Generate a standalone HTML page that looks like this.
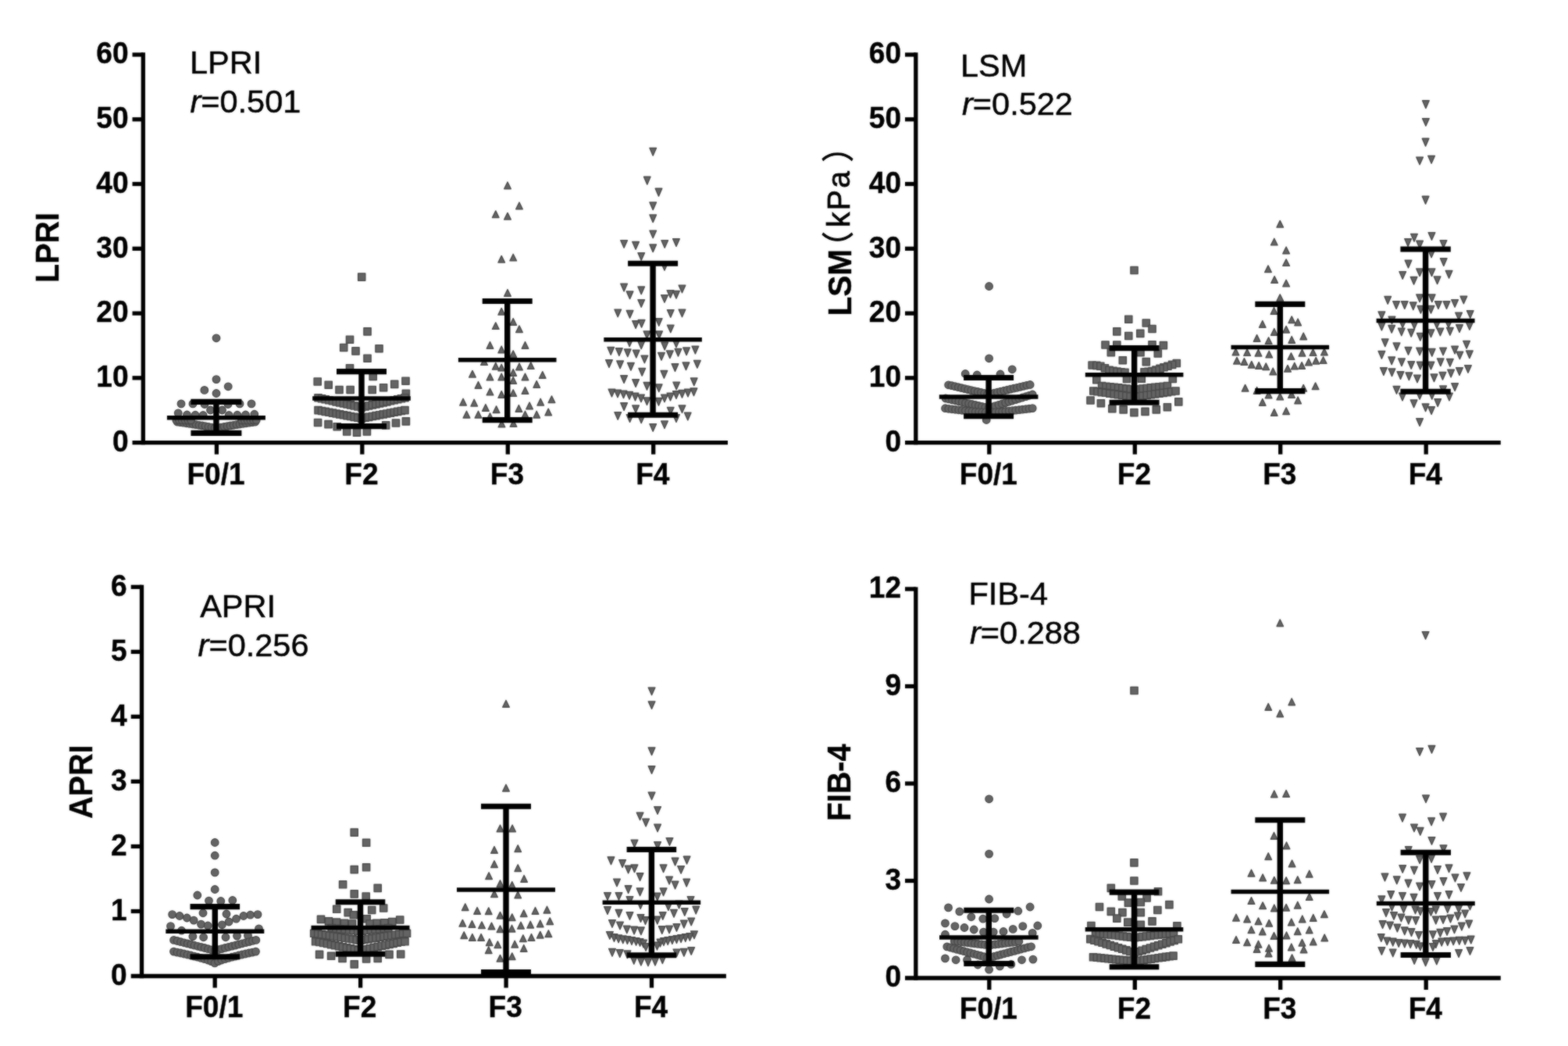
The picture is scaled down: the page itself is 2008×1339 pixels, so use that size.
<!DOCTYPE html>
<html lang="en">
<head>
<meta charset="utf-8">
<title>Scatter plots: LPRI, LSM, APRI, FIB-4 by fibrosis stage</title>
<style>
html,body{margin:0;padding:0;background:#fff;}
body{width:2008px;height:1339px;overflow:hidden;}
svg{display:block;}
text{font-family:"Liberation Sans",sans-serif;fill:#000;}
.tk{font-size:38.4px;font-weight:bold;stroke:#000;stroke-width:0.4px;}
.yt{font-size:42.5px;font-weight:bold;stroke:#000;stroke-width:0.4px;}
.kpa{font-weight:normal;font-size:41px;letter-spacing:2.4px;stroke:#000;stroke-width:0.7px;}
.par{font-family:"Liberation Sans","Noto Sans CJK SC",sans-serif;font-weight:normal;font-size:41px;stroke:#000;stroke-width:0.9px;}
.an{font-size:41.5px;stroke:#000;stroke-width:0.5px;}
</style>
</head>
<body>
<svg xmlns="http://www.w3.org/2000/svg" width="2008" height="1339" viewBox="0 0 2008 1339">
<defs><filter id="soft" x="0" y="0" width="2008" height="1339" filterUnits="userSpaceOnUse" color-interpolation-filters="sRGB"><feGaussianBlur stdDeviation="0.9" result="bl"/><feComposite in="SourceGraphic" in2="bl" operator="arithmetic" k1="0" k2="0.45" k3="0.55" k4="0"/></filter></defs>
<rect width="2008" height="1339" fill="#fff"/>
<g filter="url(#soft)">
<rect width="2008" height="1339" fill="#fff"/>
<g id="p1">
<g fill="#646464" stroke="#4a4a4a" stroke-width="1.4" stroke-linejoin="round">
<circle cx="277.0" cy="432.8" r="4.7"/>
<circle cx="277.0" cy="485.6" r="4.7"/>
<circle cx="292.2" cy="494.8" r="4.7"/>
<circle cx="261.8" cy="499.4" r="4.7"/>
<circle cx="277.0" cy="503.5" r="4.7"/>
<circle cx="232.0" cy="516.9" r="4.7"/>
<circle cx="247.0" cy="516.9" r="4.7"/>
<circle cx="262.0" cy="517.5" r="4.7"/>
<circle cx="292.0" cy="517.5" r="4.7"/>
<circle cx="307.0" cy="516.9" r="4.7"/>
<circle cx="322.0" cy="516.9" r="4.7"/>
<circle cx="269.5" cy="525.0" r="4.7"/>
<circle cx="284.5" cy="525.0" r="4.7"/>
<circle cx="228.2" cy="528.8" r="4.7"/>
<circle cx="239.5" cy="531.0" r="4.7"/>
<circle cx="250.1" cy="531.2" r="4.7"/>
<circle cx="260.1" cy="531.5" r="4.7"/>
<circle cx="293.2" cy="531.5" r="4.7"/>
<circle cx="303.9" cy="531.2" r="4.7"/>
<circle cx="314.5" cy="531.0" r="4.7"/>
<circle cx="325.8" cy="530.2" r="4.7"/>
<circle cx="227.0" cy="540.0" r="4.7"/>
<circle cx="231.0" cy="540.6" r="4.7"/>
<circle cx="235.0" cy="541.2" r="4.7"/>
<circle cx="239.0" cy="541.8" r="4.7"/>
<circle cx="243.0" cy="542.4" r="4.7"/>
<circle cx="247.0" cy="543.0" r="4.7"/>
<circle cx="251.0" cy="543.6" r="4.7"/>
<circle cx="255.0" cy="544.3" r="4.7"/>
<circle cx="259.0" cy="544.9" r="4.7"/>
<circle cx="263.0" cy="545.6" r="4.7"/>
<circle cx="267.0" cy="546.3" r="4.7"/>
<circle cx="271.0" cy="547.1" r="4.7"/>
<circle cx="275.0" cy="547.9" r="4.7"/>
<circle cx="279.0" cy="547.9" r="4.7"/>
<circle cx="283.0" cy="547.1" r="4.7"/>
<circle cx="287.0" cy="546.3" r="4.7"/>
<circle cx="291.0" cy="545.6" r="4.7"/>
<circle cx="295.0" cy="544.9" r="4.7"/>
<circle cx="299.0" cy="544.3" r="4.7"/>
<circle cx="303.0" cy="543.6" r="4.7"/>
<circle cx="307.0" cy="543.0" r="4.7"/>
<circle cx="311.0" cy="542.4" r="4.7"/>
<circle cx="315.0" cy="541.8" r="4.7"/>
<circle cx="319.0" cy="541.2" r="4.7"/>
<circle cx="323.0" cy="540.6" r="4.7"/>
<circle cx="327.0" cy="540.0" r="4.7"/>
<circle cx="225.8" cy="537.8" r="4.7"/>
<circle cx="229.5" cy="537.8" r="4.7"/>
<circle cx="233.2" cy="537.9" r="4.7"/>
<circle cx="237.0" cy="538.0" r="4.7"/>
<circle cx="240.8" cy="538.0" r="4.7"/>
<circle cx="244.5" cy="538.1" r="4.7"/>
<circle cx="309.5" cy="538.1" r="4.7"/>
<circle cx="313.2" cy="538.0" r="4.7"/>
<circle cx="317.0" cy="538.0" r="4.7"/>
<circle cx="320.8" cy="537.9" r="4.7"/>
<circle cx="324.5" cy="537.8" r="4.7"/>
<circle cx="328.2" cy="537.8" r="4.7"/>
<rect x="458.6" y="350.0" width="9.2" height="9.2"/>
<rect x="465.9" y="419.8" width="9.2" height="9.2"/>
<rect x="443.4" y="430.1" width="9.2" height="9.2"/>
<rect x="435.6" y="440.4" width="9.2" height="9.2"/>
<rect x="450.9" y="444.8" width="9.2" height="9.2"/>
<rect x="480.9" y="441.6" width="9.2" height="9.2"/>
<rect x="465.9" y="454.1" width="9.2" height="9.2"/>
<rect x="443.4" y="466.6" width="9.2" height="9.2"/>
<rect x="473.1" y="477.3" width="9.2" height="9.2"/>
<rect x="402.1" y="483.9" width="9.2" height="9.2"/>
<rect x="416.1" y="488.1" width="9.2" height="9.2"/>
<rect x="429.9" y="494.4" width="9.2" height="9.2"/>
<rect x="444.0" y="494.4" width="9.2" height="9.2"/>
<rect x="472.1" y="494.4" width="9.2" height="9.2"/>
<rect x="486.5" y="491.6" width="9.2" height="9.2"/>
<rect x="500.6" y="487.3" width="9.2" height="9.2"/>
<rect x="514.9" y="483.1" width="9.2" height="9.2"/>
<rect x="515.3" y="499.1" width="9.2" height="9.2"/>
<rect x="402.5" y="536.4" width="9.2" height="9.2"/>
<rect x="415.9" y="538.5" width="9.2" height="9.2"/>
<rect x="427.1" y="541.6" width="9.2" height="9.2"/>
<rect x="439.6" y="547.9" width="9.2" height="9.2"/>
<rect x="452.4" y="549.1" width="9.2" height="9.2"/>
<rect x="465.3" y="547.9" width="9.2" height="9.2"/>
<rect x="489.6" y="539.8" width="9.2" height="9.2"/>
<rect x="502.4" y="536.9" width="9.2" height="9.2"/>
<rect x="515.3" y="534.8" width="9.2" height="9.2"/>
<rect x="402.9" y="504.6" width="9.2" height="9.2"/>
<rect x="407.5" y="505.7" width="9.2" height="9.2"/>
<rect x="412.1" y="506.7" width="9.2" height="9.2"/>
<rect x="416.8" y="507.7" width="9.2" height="9.2"/>
<rect x="421.4" y="508.7" width="9.2" height="9.2"/>
<rect x="426.0" y="509.8" width="9.2" height="9.2"/>
<rect x="430.6" y="510.8" width="9.2" height="9.2"/>
<rect x="435.3" y="511.8" width="9.2" height="9.2"/>
<rect x="439.9" y="512.8" width="9.2" height="9.2"/>
<rect x="444.5" y="513.8" width="9.2" height="9.2"/>
<rect x="449.1" y="514.9" width="9.2" height="9.2"/>
<rect x="453.8" y="515.9" width="9.2" height="9.2"/>
<rect x="458.4" y="516.9" width="9.2" height="9.2"/>
<rect x="463.0" y="515.9" width="9.2" height="9.2"/>
<rect x="467.6" y="514.9" width="9.2" height="9.2"/>
<rect x="472.3" y="513.8" width="9.2" height="9.2"/>
<rect x="476.9" y="512.8" width="9.2" height="9.2"/>
<rect x="481.5" y="511.8" width="9.2" height="9.2"/>
<rect x="486.1" y="510.8" width="9.2" height="9.2"/>
<rect x="490.8" y="509.8" width="9.2" height="9.2"/>
<rect x="495.4" y="508.7" width="9.2" height="9.2"/>
<rect x="500.0" y="507.7" width="9.2" height="9.2"/>
<rect x="504.6" y="506.7" width="9.2" height="9.2"/>
<rect x="509.3" y="505.7" width="9.2" height="9.2"/>
<rect x="513.9" y="504.6" width="9.2" height="9.2"/>
<rect x="402.9" y="520.5" width="9.2" height="9.2"/>
<rect x="407.5" y="521.4" width="9.2" height="9.2"/>
<rect x="412.1" y="522.3" width="9.2" height="9.2"/>
<rect x="416.8" y="523.1" width="9.2" height="9.2"/>
<rect x="421.4" y="524.0" width="9.2" height="9.2"/>
<rect x="426.0" y="524.9" width="9.2" height="9.2"/>
<rect x="430.6" y="525.8" width="9.2" height="9.2"/>
<rect x="435.3" y="526.6" width="9.2" height="9.2"/>
<rect x="439.9" y="527.5" width="9.2" height="9.2"/>
<rect x="444.5" y="528.4" width="9.2" height="9.2"/>
<rect x="449.1" y="529.3" width="9.2" height="9.2"/>
<rect x="453.8" y="530.1" width="9.2" height="9.2"/>
<rect x="458.4" y="531.0" width="9.2" height="9.2"/>
<rect x="463.0" y="530.1" width="9.2" height="9.2"/>
<rect x="467.6" y="529.3" width="9.2" height="9.2"/>
<rect x="472.3" y="528.4" width="9.2" height="9.2"/>
<rect x="476.9" y="527.5" width="9.2" height="9.2"/>
<rect x="481.5" y="526.6" width="9.2" height="9.2"/>
<rect x="486.1" y="525.8" width="9.2" height="9.2"/>
<rect x="490.8" y="524.9" width="9.2" height="9.2"/>
<rect x="495.4" y="524.0" width="9.2" height="9.2"/>
<rect x="500.0" y="523.1" width="9.2" height="9.2"/>
<rect x="504.6" y="522.3" width="9.2" height="9.2"/>
<rect x="509.3" y="521.4" width="9.2" height="9.2"/>
<rect x="513.9" y="520.5" width="9.2" height="9.2"/>
<path d="M645.7 241.7L654.3 241.7L650.0 233.0Z"/>
<path d="M660.7 267.7L669.3 267.7L665.0 259.0Z"/>
<path d="M630.5 278.6L639.0 278.6L634.8 269.9Z"/>
<path d="M645.7 281.1L654.3 281.1L650.0 272.4Z"/>
<path d="M638.0 336.1L646.5 336.1L642.2 327.4Z"/>
<path d="M653.0 333.9L661.5 333.9L657.2 325.2Z"/>
<path d="M645.7 379.2L654.3 379.2L650.0 370.5Z"/>
<path d="M638.0 403.1L646.5 403.1L642.2 394.4Z"/>
<path d="M653.0 416.2L661.5 416.2L657.2 407.5Z"/>
<path d="M630.5 421.4L639.0 421.4L634.8 412.8Z"/>
<path d="M660.7 425.6L669.3 425.6L665.0 416.9Z"/>
<path d="M623.2 446.2L631.8 446.2L627.5 437.5Z"/>
<path d="M668.2 446.2L676.8 446.2L672.5 437.5Z"/>
<path d="M638.0 451.8L646.5 451.8L642.2 443.1Z"/>
<path d="M653.0 457.4L661.5 457.4L657.2 448.8Z"/>
<path d="M615.7 467.4L624.3 467.4L620.0 458.8Z"/>
<path d="M630.5 473.1L639.0 473.1L634.8 464.4Z"/>
<path d="M638.0 474.9L646.5 474.9L642.2 466.2Z"/>
<path d="M660.7 473.7L669.3 473.7L665.0 465.0Z"/>
<path d="M675.5 472.4L684.0 472.4L679.8 463.8Z"/>
<path d="M600.7 483.1L609.3 483.1L605.0 474.4Z"/>
<path d="M653.0 481.2L661.5 481.2L657.2 472.5Z"/>
<path d="M690.5 484.3L699.0 484.3L694.8 475.6Z"/>
<path d="M623.2 486.8L631.8 486.8L627.5 478.1Z"/>
<path d="M638.0 486.8L646.5 486.8L642.2 478.1Z"/>
<path d="M668.2 486.8L676.8 486.8L672.5 478.1Z"/>
<path d="M653.0 491.2L661.5 491.2L657.2 482.5Z"/>
<path d="M608.2 497.2L616.8 497.2L612.5 488.5Z"/>
<path d="M683.0 496.2L691.5 496.2L687.2 487.5Z"/>
<path d="M623.2 505.9L631.8 505.9L627.5 497.2Z"/>
<path d="M668.2 504.3L676.8 504.3L672.5 495.6Z"/>
<path d="M638.0 509.3L646.5 509.3L642.2 500.6Z"/>
<path d="M653.0 507.4L661.5 507.4L657.2 498.8Z"/>
<path d="M588.8 519.0L597.4 519.0L593.1 510.2Z"/>
<path d="M603.0 520.0L611.5 520.0L607.2 511.2Z"/>
<path d="M688.0 519.0L696.5 519.0L692.2 510.2Z"/>
<path d="M702.2 515.6L710.8 515.6L706.5 506.9Z"/>
<path d="M673.8 523.7L682.4 523.7L678.1 515.0Z"/>
<path d="M617.6 526.2L626.2 526.2L621.9 517.5Z"/>
<path d="M631.3 528.5L639.9 528.5L635.6 519.8Z"/>
<path d="M660.1 527.2L668.7 527.2L664.4 518.5Z"/>
<path d="M593.2 535.0L601.8 535.0L597.5 526.2Z"/>
<path d="M608.2 535.0L616.8 535.0L612.5 526.2Z"/>
<path d="M683.0 535.0L691.5 535.0L687.2 526.2Z"/>
<path d="M698.0 531.8L706.5 531.8L702.2 523.1Z"/>
<path d="M668.2 535.0L676.8 535.0L672.5 526.2Z"/>
<path d="M638.2 546.8L646.8 546.8L642.5 538.1Z"/>
<path d="M653.2 546.2L661.8 546.2L657.5 537.5Z"/>
<path d="M623.2 537.5L631.8 537.5L627.5 528.8Z"/>
<path d="M832.0 189.5L840.5 189.5L836.2 199.2Z"/>
<path d="M824.5 226.3L833.0 226.3L828.8 236.1Z"/>
<path d="M839.2 241.3L847.8 241.3L843.5 251.1Z"/>
<path d="M832.0 258.9L840.5 258.9L836.2 268.6Z"/>
<path d="M832.0 274.9L840.5 274.9L836.2 284.6Z"/>
<path d="M832.0 295.1L840.5 295.1L836.2 304.8Z"/>
<path d="M794.8 307.6L803.4 307.6L799.1 317.3Z"/>
<path d="M809.8 309.5L818.4 309.5L814.1 319.2Z"/>
<path d="M832.0 312.9L840.5 312.9L836.2 322.6Z"/>
<path d="M847.0 307.6L855.5 307.6L851.2 317.3Z"/>
<path d="M861.7 305.7L870.3 305.7L866.0 315.4Z"/>
<path d="M817.0 323.6L825.5 323.6L821.2 333.3Z"/>
<path d="M846.7 336.4L855.3 336.4L851.0 346.1Z"/>
<path d="M794.8 363.2L803.4 363.2L799.1 372.9Z"/>
<path d="M817.0 367.0L825.5 367.0L821.2 376.7Z"/>
<path d="M802.3 372.9L810.9 372.9L806.6 382.6Z"/>
<path d="M869.2 365.1L877.8 365.1L873.5 374.8Z"/>
<path d="M854.2 371.6L862.8 371.6L858.5 381.3Z"/>
<path d="M861.7 372.4L870.3 372.4L866.0 382.1Z"/>
<path d="M846.7 377.6L855.3 377.6L851.0 387.3Z"/>
<path d="M817.0 383.6L825.5 383.6L821.2 393.3Z"/>
<path d="M787.0 396.1L795.5 396.1L791.2 405.8Z"/>
<path d="M802.3 397.4L810.9 397.4L806.6 407.1Z"/>
<path d="M854.5 396.6L863.0 396.6L858.8 406.3Z"/>
<path d="M869.2 396.1L877.8 396.1L873.5 405.8Z"/>
<path d="M809.8 410.7L818.4 410.7L814.1 420.4Z"/>
<path d="M817.3 409.5L825.9 409.5L821.6 419.2Z"/>
<path d="M839.5 407.6L848.0 407.6L843.8 417.3Z"/>
<path d="M854.5 416.1L863.0 416.1L858.8 425.8Z"/>
<path d="M824.2 423.9L832.8 423.9L828.5 433.6Z"/>
<path d="M839.8 423.9L848.4 423.9L844.1 433.6Z"/>
<path d="M802.0 433.9L810.5 433.9L806.2 443.6Z"/>
<path d="M817.0 437.0L825.5 437.0L821.2 446.7Z"/>
<path d="M847.0 438.2L855.5 438.2L851.2 447.9Z"/>
<path d="M861.7 435.1L870.3 435.1L866.0 444.8Z"/>
<path d="M778.0 444.5L786.5 444.5L782.2 454.2Z"/>
<path d="M788.6 445.7L797.2 445.7L792.9 455.4Z"/>
<path d="M799.5 447.0L808.0 447.0L803.8 456.7Z"/>
<path d="M810.5 448.2L819.0 448.2L814.8 457.9Z"/>
<path d="M821.1 455.1L829.7 455.1L825.4 464.8Z"/>
<path d="M842.7 451.4L851.3 451.4L847.0 461.1Z"/>
<path d="M853.6 448.9L862.2 448.9L857.9 458.6Z"/>
<path d="M864.2 446.4L872.8 446.4L868.5 456.1Z"/>
<path d="M874.8 444.9L883.4 444.9L879.1 454.6Z"/>
<path d="M886.1 443.2L894.7 443.2L890.4 452.9Z"/>
<path d="M775.7 460.7L784.3 460.7L780.0 470.4Z"/>
<path d="M789.8 462.0L798.4 462.0L794.1 471.7Z"/>
<path d="M803.6 464.5L812.2 464.5L807.9 474.2Z"/>
<path d="M860.2 465.7L868.8 465.7L864.5 475.4Z"/>
<path d="M874.2 463.9L882.8 463.9L878.5 473.6Z"/>
<path d="M888.6 461.4L897.2 461.4L892.9 471.1Z"/>
<path d="M818.0 471.4L826.5 471.4L822.2 481.1Z"/>
<path d="M846.1 474.5L854.7 474.5L850.4 484.2Z"/>
<path d="M794.8 480.7L803.4 480.7L799.1 490.4Z"/>
<path d="M809.8 485.7L818.4 485.7L814.1 495.4Z"/>
<path d="M824.2 489.5L832.8 489.5L828.5 499.2Z"/>
<path d="M839.5 492.0L848.0 492.0L843.8 501.7Z"/>
<path d="M862.0 489.1L870.5 489.1L866.2 498.8Z"/>
<path d="M884.5 483.9L893.0 483.9L888.8 493.6Z"/>
<path d="M779.2 498.2L787.8 498.2L783.5 507.9Z"/>
<path d="M786.7 499.1L795.3 499.1L791.0 508.8Z"/>
<path d="M794.2 500.1L802.8 500.1L798.5 509.8Z"/>
<path d="M801.7 501.4L810.3 501.4L806.0 511.1Z"/>
<path d="M809.2 503.2L817.8 503.2L813.5 512.9Z"/>
<path d="M816.7 505.1L825.3 505.1L821.0 514.8Z"/>
<path d="M824.2 508.9L832.8 508.9L828.5 518.5Z"/>
<path d="M839.2 509.5L847.8 509.5L843.5 519.2Z"/>
<path d="M846.7 505.1L855.3 505.1L851.0 514.8Z"/>
<path d="M854.2 503.2L862.8 503.2L858.5 512.9Z"/>
<path d="M861.7 500.7L870.3 500.7L866.0 510.4Z"/>
<path d="M869.2 499.5L877.8 499.5L873.5 509.2Z"/>
<path d="M876.7 498.2L885.3 498.2L881.0 507.9Z"/>
<path d="M884.2 497.0L892.8 497.0L888.5 506.7Z"/>
<path d="M794.8 515.7L803.4 515.7L799.1 525.4Z"/>
<path d="M809.8 518.9L818.4 518.9L814.1 528.5Z"/>
<path d="M854.5 521.4L863.0 521.4L858.8 531.0Z"/>
<path d="M869.2 518.9L877.8 518.9L873.5 528.5Z"/>
<path d="M787.0 527.6L795.5 527.6L791.2 537.3Z"/>
<path d="M802.3 530.7L810.9 530.7L806.6 540.4Z"/>
<path d="M817.0 532.0L825.5 532.0L821.2 541.7Z"/>
<path d="M861.7 530.7L870.3 530.7L866.0 540.4Z"/>
<path d="M876.5 528.2L885.0 528.2L880.8 537.9Z"/>
<path d="M832.0 542.6L840.5 542.6L836.2 552.3Z"/>
<path d="M846.7 538.9L855.3 538.9L851.0 548.5Z"/>
</g>
<g stroke="#000" fill="none">
<path stroke-width="5.5" d="M213.9 534.8H339.9"/>
<path stroke-width="7.4" d="M276.9 514.4V554.4"/>
<path stroke-width="7.1" d="M244.4 514.4H309.4M244.4 554.4H309.4"/>
<path stroke-width="5.5" d="M400.2 510.0H525.8"/>
<path stroke-width="7.4" d="M463.0 475.6V545.6"/>
<path stroke-width="7.1" d="M431.0 475.6H495.0M431.0 545.6H495.0"/>
<path stroke-width="5.5" d="M586.9 460.8H712.5"/>
<path stroke-width="7.4" d="M649.7 385.5V537.6"/>
<path stroke-width="7.1" d="M617.7 385.5H681.7M617.7 537.6H681.7"/>
<path stroke-width="5.5" d="M773.3 434.8H898.9"/>
<path stroke-width="7.4" d="M836.1 337.2V531.2"/>
<path stroke-width="7.1" d="M804.1 337.2H868.1M804.1 531.2H868.1"/>
</g>
<g stroke="#000" stroke-width="5.3" fill="none">
<path d="M183.3 67.3V569.2"/>
<path d="M169.5 566.6H932.0"/>
<path d="M169.5 483.8H183.3"/>
<path d="M169.5 401.1H183.3"/>
<path d="M169.5 318.3H183.3"/>
<path d="M169.5 235.5H183.3"/>
<path d="M169.5 152.8H183.3"/>
<path d="M169.5 70.0H183.3"/>
<path d="M277.4 566.6V581.6"/>
<path d="M463.8 566.6V581.6"/>
<path d="M650.3 566.6V581.6"/>
<path d="M836.7 566.6V581.6"/>
</g>
<g class="tk" text-anchor="end">
<text transform="translate(164.5 577.9) scale(0.965 1)">0</text>
<text transform="translate(164.5 495.1) scale(0.965 1)">10</text>
<text transform="translate(164.5 412.4) scale(0.965 1)">20</text>
<text transform="translate(164.5 329.6) scale(0.965 1)">30</text>
<text transform="translate(164.5 246.8) scale(0.965 1)">40</text>
<text transform="translate(164.5 164.1) scale(0.965 1)">50</text>
<text transform="translate(164.5 81.3) scale(0.965 1)">60</text>
</g>
<g class="tk" text-anchor="middle">
<text transform="translate(276.5 620.0) scale(0.965 1)">F0/1</text>
<text transform="translate(462.9 620.0) scale(0.965 1)">F2</text>
<text transform="translate(649.4 620.0) scale(0.965 1)">F3</text>
<text transform="translate(835.8 620.0) scale(0.965 1)">F4</text>
</g>
<text class="yt" text-anchor="middle" transform="translate(75 317) rotate(-90) scale(0.93 1)">LPRI</text>
<text class="an" x="243" y="94.3">LPRI</text>
<text class="an" x="243.4" y="144.3"><tspan font-style="italic">r</tspan>=0.501</text>
</g>
<g id="p2">
<g fill="#646464" stroke="#4a4a4a" stroke-width="1.4" stroke-linejoin="round">
<circle cx="1266.6" cy="366.5" r="4.7"/>
<circle cx="1266.6" cy="458.8" r="4.7"/>
<circle cx="1296.2" cy="472.8" r="4.7"/>
<circle cx="1236.2" cy="478.5" r="4.7"/>
<circle cx="1251.2" cy="480.0" r="4.7"/>
<circle cx="1281.0" cy="479.0" r="4.7"/>
<circle cx="1263.2" cy="537.5" r="4.7"/>
<circle cx="1214.6" cy="492.8" r="4.7"/>
<circle cx="1218.8" cy="493.7" r="4.7"/>
<circle cx="1223.0" cy="494.7" r="4.7"/>
<circle cx="1227.2" cy="495.7" r="4.7"/>
<circle cx="1231.3" cy="496.7" r="4.7"/>
<circle cx="1235.5" cy="497.6" r="4.7"/>
<circle cx="1239.7" cy="498.6" r="4.7"/>
<circle cx="1243.9" cy="499.6" r="4.7"/>
<circle cx="1248.1" cy="500.6" r="4.7"/>
<circle cx="1252.2" cy="501.5" r="4.7"/>
<circle cx="1256.4" cy="502.5" r="4.7"/>
<circle cx="1260.6" cy="503.5" r="4.7"/>
<circle cx="1264.8" cy="504.5" r="4.7"/>
<circle cx="1269.0" cy="504.1" r="4.7"/>
<circle cx="1273.1" cy="503.1" r="4.7"/>
<circle cx="1277.3" cy="502.1" r="4.7"/>
<circle cx="1281.5" cy="501.1" r="4.7"/>
<circle cx="1285.7" cy="500.2" r="4.7"/>
<circle cx="1289.9" cy="499.2" r="4.7"/>
<circle cx="1294.0" cy="498.2" r="4.7"/>
<circle cx="1298.2" cy="497.2" r="4.7"/>
<circle cx="1302.4" cy="496.3" r="4.7"/>
<circle cx="1306.6" cy="495.3" r="4.7"/>
<circle cx="1310.8" cy="494.3" r="4.7"/>
<circle cx="1314.9" cy="493.3" r="4.7"/>
<circle cx="1319.1" cy="492.5" r="4.7"/>
<circle cx="1211.0" cy="510.0" r="4.7"/>
<circle cx="1215.2" cy="510.9" r="4.7"/>
<circle cx="1219.5" cy="511.9" r="4.7"/>
<circle cx="1223.7" cy="512.8" r="4.7"/>
<circle cx="1227.9" cy="513.8" r="4.7"/>
<circle cx="1232.2" cy="514.7" r="4.7"/>
<circle cx="1236.4" cy="515.7" r="4.7"/>
<circle cx="1240.6" cy="516.6" r="4.7"/>
<circle cx="1244.8" cy="517.5" r="4.7"/>
<circle cx="1249.1" cy="518.5" r="4.7"/>
<circle cx="1253.3" cy="519.4" r="4.7"/>
<circle cx="1257.5" cy="520.4" r="4.7"/>
<circle cx="1261.8" cy="521.3" r="4.7"/>
<circle cx="1266.0" cy="522.2" r="4.7"/>
<circle cx="1270.2" cy="520.9" r="4.7"/>
<circle cx="1274.6" cy="519.6" r="4.7"/>
<circle cx="1278.9" cy="518.3" r="4.7"/>
<circle cx="1283.2" cy="517.0" r="4.7"/>
<circle cx="1287.6" cy="515.6" r="4.7"/>
<circle cx="1291.9" cy="514.3" r="4.7"/>
<circle cx="1296.2" cy="513.0" r="4.7"/>
<circle cx="1300.6" cy="511.6" r="4.7"/>
<circle cx="1304.9" cy="510.3" r="4.7"/>
<circle cx="1309.2" cy="509.0" r="4.7"/>
<circle cx="1313.6" cy="507.7" r="4.7"/>
<circle cx="1317.9" cy="506.3" r="4.7"/>
<circle cx="1322.2" cy="505.0" r="4.7"/>
<circle cx="1210.5" cy="522.7" r="4.7"/>
<circle cx="1214.8" cy="523.3" r="4.7"/>
<circle cx="1219.1" cy="523.8" r="4.7"/>
<circle cx="1223.4" cy="524.3" r="4.7"/>
<circle cx="1227.7" cy="524.8" r="4.7"/>
<circle cx="1232.0" cy="525.3" r="4.7"/>
<circle cx="1236.3" cy="525.7" r="4.7"/>
<circle cx="1240.6" cy="526.2" r="4.7"/>
<circle cx="1244.9" cy="526.6" r="4.7"/>
<circle cx="1249.2" cy="527.0" r="4.7"/>
<circle cx="1253.5" cy="527.3" r="4.7"/>
<circle cx="1257.8" cy="527.7" r="4.7"/>
<circle cx="1262.1" cy="528.0" r="4.7"/>
<circle cx="1266.4" cy="528.1" r="4.7"/>
<circle cx="1270.7" cy="527.9" r="4.7"/>
<circle cx="1275.0" cy="527.6" r="4.7"/>
<circle cx="1279.3" cy="527.3" r="4.7"/>
<circle cx="1283.6" cy="526.9" r="4.7"/>
<circle cx="1287.9" cy="526.5" r="4.7"/>
<circle cx="1292.2" cy="526.1" r="4.7"/>
<circle cx="1296.5" cy="525.6" r="4.7"/>
<circle cx="1300.8" cy="525.2" r="4.7"/>
<circle cx="1305.1" cy="524.7" r="4.7"/>
<circle cx="1309.4" cy="524.2" r="4.7"/>
<circle cx="1313.7" cy="523.7" r="4.7"/>
<circle cx="1318.0" cy="523.2" r="4.7"/>
<circle cx="1322.2" cy="522.6" r="4.7"/>
<rect x="1447.9" y="341.4" width="9.2" height="9.2"/>
<rect x="1440.7" y="404.1" width="9.2" height="9.2"/>
<rect x="1463.2" y="408.9" width="9.2" height="9.2"/>
<rect x="1470.9" y="416.4" width="9.2" height="9.2"/>
<rect x="1425.7" y="419.8" width="9.2" height="9.2"/>
<rect x="1455.7" y="422.3" width="9.2" height="9.2"/>
<rect x="1440.7" y="425.4" width="9.2" height="9.2"/>
<rect x="1410.9" y="436.9" width="9.2" height="9.2"/>
<rect x="1425.7" y="436.9" width="9.2" height="9.2"/>
<rect x="1470.9" y="436.6" width="9.2" height="9.2"/>
<rect x="1485.3" y="437.5" width="9.2" height="9.2"/>
<rect x="1418.2" y="446.6" width="9.2" height="9.2"/>
<rect x="1478.2" y="447.9" width="9.2" height="9.2"/>
<rect x="1455.9" y="446.6" width="9.2" height="9.2"/>
<rect x="1433.2" y="456.6" width="9.2" height="9.2"/>
<rect x="1463.2" y="458.5" width="9.2" height="9.2"/>
<rect x="1394.0" y="462.9" width="9.2" height="9.2"/>
<rect x="1399.7" y="463.3" width="9.2" height="9.2"/>
<rect x="1404.7" y="464.1" width="9.2" height="9.2"/>
<rect x="1410.3" y="466.6" width="9.2" height="9.2"/>
<rect x="1415.9" y="469.1" width="9.2" height="9.2"/>
<rect x="1420.9" y="470.1" width="9.2" height="9.2"/>
<rect x="1425.9" y="471.0" width="9.2" height="9.2"/>
<rect x="1430.9" y="471.6" width="9.2" height="9.2"/>
<rect x="1435.9" y="472.3" width="9.2" height="9.2"/>
<rect x="1502.2" y="460.4" width="9.2" height="9.2"/>
<rect x="1496.5" y="462.3" width="9.2" height="9.2"/>
<rect x="1490.9" y="464.1" width="9.2" height="9.2"/>
<rect x="1485.9" y="465.6" width="9.2" height="9.2"/>
<rect x="1480.9" y="467.3" width="9.2" height="9.2"/>
<rect x="1475.9" y="468.9" width="9.2" height="9.2"/>
<rect x="1470.9" y="470.4" width="9.2" height="9.2"/>
<rect x="1465.9" y="471.1" width="9.2" height="9.2"/>
<rect x="1460.9" y="471.6" width="9.2" height="9.2"/>
<rect x="1399.7" y="481.6" width="9.2" height="9.2"/>
<rect x="1497.2" y="480.4" width="9.2" height="9.2"/>
<rect x="1438.4" y="480.4" width="9.2" height="9.2"/>
<rect x="1457.2" y="480.1" width="9.2" height="9.2"/>
<rect x="1391.9" y="507.9" width="9.2" height="9.2"/>
<rect x="1405.3" y="511.6" width="9.2" height="9.2"/>
<rect x="1504.7" y="509.8" width="9.2" height="9.2"/>
<rect x="1490.3" y="516.6" width="9.2" height="9.2"/>
<rect x="1419.7" y="518.5" width="9.2" height="9.2"/>
<rect x="1434.0" y="519.8" width="9.2" height="9.2"/>
<rect x="1447.8" y="523.5" width="9.2" height="9.2"/>
<rect x="1461.9" y="522.3" width="9.2" height="9.2"/>
<rect x="1476.2" y="519.8" width="9.2" height="9.2"/>
<rect x="1406.5" y="489.5" width="9.2" height="9.2"/>
<rect x="1411.8" y="490.1" width="9.2" height="9.2"/>
<rect x="1417.0" y="490.7" width="9.2" height="9.2"/>
<rect x="1422.2" y="491.3" width="9.2" height="9.2"/>
<rect x="1427.5" y="491.8" width="9.2" height="9.2"/>
<rect x="1432.7" y="492.4" width="9.2" height="9.2"/>
<rect x="1437.9" y="493.0" width="9.2" height="9.2"/>
<rect x="1443.2" y="493.6" width="9.2" height="9.2"/>
<rect x="1448.4" y="494.1" width="9.2" height="9.2"/>
<rect x="1453.6" y="493.6" width="9.2" height="9.2"/>
<rect x="1458.9" y="493.0" width="9.2" height="9.2"/>
<rect x="1464.1" y="492.4" width="9.2" height="9.2"/>
<rect x="1469.3" y="491.8" width="9.2" height="9.2"/>
<rect x="1474.6" y="491.3" width="9.2" height="9.2"/>
<rect x="1479.8" y="490.7" width="9.2" height="9.2"/>
<rect x="1485.0" y="490.1" width="9.2" height="9.2"/>
<rect x="1490.3" y="489.5" width="9.2" height="9.2"/>
<rect x="1395.7" y="495.9" width="9.2" height="9.2"/>
<rect x="1400.9" y="496.7" width="9.2" height="9.2"/>
<rect x="1406.2" y="497.5" width="9.2" height="9.2"/>
<rect x="1411.4" y="498.2" width="9.2" height="9.2"/>
<rect x="1416.7" y="499.0" width="9.2" height="9.2"/>
<rect x="1422.0" y="499.8" width="9.2" height="9.2"/>
<rect x="1427.2" y="500.5" width="9.2" height="9.2"/>
<rect x="1432.5" y="501.3" width="9.2" height="9.2"/>
<rect x="1437.8" y="502.1" width="9.2" height="9.2"/>
<rect x="1443.0" y="502.9" width="9.2" height="9.2"/>
<rect x="1448.3" y="503.6" width="9.2" height="9.2"/>
<rect x="1453.5" y="502.9" width="9.2" height="9.2"/>
<rect x="1458.8" y="502.1" width="9.2" height="9.2"/>
<rect x="1464.1" y="501.4" width="9.2" height="9.2"/>
<rect x="1469.3" y="500.6" width="9.2" height="9.2"/>
<rect x="1474.6" y="499.8" width="9.2" height="9.2"/>
<rect x="1479.9" y="499.0" width="9.2" height="9.2"/>
<rect x="1485.1" y="498.3" width="9.2" height="9.2"/>
<rect x="1490.4" y="497.5" width="9.2" height="9.2"/>
<rect x="1495.6" y="496.7" width="9.2" height="9.2"/>
<rect x="1500.9" y="495.9" width="9.2" height="9.2"/>
<path d="M1635.0 291.1L1643.5 291.1L1639.2 282.4Z"/>
<path d="M1627.5 313.9L1636.0 313.9L1631.8 305.2Z"/>
<path d="M1642.8 324.8L1651.4 324.8L1647.1 316.1Z"/>
<path d="M1642.8 340.4L1651.4 340.4L1647.1 331.8Z"/>
<path d="M1619.7 348.6L1628.3 348.6L1624.0 339.9Z"/>
<path d="M1627.8 362.3L1636.4 362.3L1632.1 353.6Z"/>
<path d="M1642.8 366.9L1651.4 366.9L1647.1 358.2Z"/>
<path d="M1635.0 385.4L1643.5 385.4L1639.2 376.8Z"/>
<path d="M1627.2 402.3L1635.8 402.3L1631.5 393.6Z"/>
<path d="M1650.0 413.6L1658.5 413.6L1654.2 404.9Z"/>
<path d="M1657.8 416.7L1666.4 416.7L1662.1 408.0Z"/>
<path d="M1612.5 419.2L1621.0 419.2L1616.8 410.5Z"/>
<path d="M1642.8 426.1L1651.4 426.1L1647.1 417.4Z"/>
<path d="M1627.5 429.2L1636.0 429.2L1631.8 420.5Z"/>
<path d="M1665.0 434.8L1673.5 434.8L1669.2 426.1Z"/>
<path d="M1605.3 437.3L1613.9 437.3L1609.6 428.6Z"/>
<path d="M1620.3 440.4L1628.9 440.4L1624.6 431.8Z"/>
<path d="M1650.0 439.2L1658.5 439.2L1654.2 430.5Z"/>
<path d="M1578.2 454.8L1586.8 454.8L1582.5 446.1Z"/>
<path d="M1592.8 455.4L1601.4 455.4L1597.1 446.8Z"/>
<path d="M1607.2 456.1L1615.8 456.1L1611.5 447.4Z"/>
<path d="M1621.0 457.9L1629.5 457.9L1625.2 449.2Z"/>
<path d="M1649.1 460.4L1657.7 460.4L1653.4 451.8Z"/>
<path d="M1663.2 456.1L1671.8 456.1L1667.5 447.4Z"/>
<path d="M1677.2 455.4L1685.8 455.4L1681.5 446.8Z"/>
<path d="M1691.6 454.8L1700.2 454.8L1695.9 446.1Z"/>
<path d="M1579.7 466.1L1588.3 466.1L1584.0 457.4Z"/>
<path d="M1589.1 467.3L1597.7 467.3L1593.4 458.6Z"/>
<path d="M1598.5 471.1L1607.0 471.1L1602.8 462.4Z"/>
<path d="M1607.8 472.3L1616.4 472.3L1612.1 463.6Z"/>
<path d="M1617.0 473.6L1625.5 473.6L1621.2 464.9Z"/>
<path d="M1626.0 479.8L1634.5 479.8L1630.2 471.1Z"/>
<path d="M1644.7 476.1L1653.3 476.1L1649.0 467.4Z"/>
<path d="M1653.5 472.9L1662.0 472.9L1657.8 464.2Z"/>
<path d="M1662.8 472.3L1671.4 472.3L1667.1 463.6Z"/>
<path d="M1671.6 467.9L1680.2 467.9L1675.9 459.2Z"/>
<path d="M1681.0 466.1L1689.5 466.1L1685.2 457.4Z"/>
<path d="M1690.3 465.4L1698.9 465.4L1694.6 456.8Z"/>
<path d="M1590.3 501.1L1598.9 501.1L1594.6 492.4Z"/>
<path d="M1680.3 498.6L1688.9 498.6L1684.6 489.9Z"/>
<path d="M1605.3 504.2L1613.9 504.2L1609.6 495.5Z"/>
<path d="M1665.0 501.1L1673.5 501.1L1669.2 492.4Z"/>
<path d="M1620.3 509.8L1628.9 509.8L1624.6 501.1Z"/>
<path d="M1635.0 511.9L1643.5 511.9L1639.2 503.2Z"/>
<path d="M1649.7 509.2L1658.3 509.2L1654.0 500.5Z"/>
<path d="M1612.5 519.2L1621.0 519.2L1616.8 510.5Z"/>
<path d="M1657.8 516.7L1666.4 516.7L1662.1 508.0Z"/>
<path d="M1627.5 532.3L1636.0 532.3L1631.8 523.6Z"/>
<path d="M1642.8 530.5L1651.4 530.5L1647.1 521.8Z"/>
<path d="M1821.6 128.8L1830.2 128.8L1825.9 138.6Z"/>
<path d="M1821.6 151.6L1830.2 151.6L1825.9 161.3Z"/>
<path d="M1821.3 177.3L1829.9 177.3L1825.6 187.1Z"/>
<path d="M1813.8 201.1L1822.4 201.1L1818.1 210.8Z"/>
<path d="M1828.8 199.5L1837.4 199.5L1833.1 209.2Z"/>
<path d="M1821.3 251.3L1829.9 251.3L1825.6 261.1Z"/>
<path d="M1806.7 299.5L1815.3 299.5L1811.0 309.2Z"/>
<path d="M1829.2 297.6L1837.8 297.6L1833.5 307.3Z"/>
<path d="M1798.8 305.7L1807.4 305.7L1803.1 315.4Z"/>
<path d="M1813.8 308.2L1822.4 308.2L1818.1 317.9Z"/>
<path d="M1844.2 307.6L1852.8 307.6L1848.5 317.3Z"/>
<path d="M1828.8 320.1L1837.4 320.1L1833.1 329.8Z"/>
<path d="M1799.2 333.2L1807.8 333.2L1803.5 342.9Z"/>
<path d="M1844.5 330.7L1853.0 330.7L1848.8 340.4Z"/>
<path d="M1792.0 347.6L1800.5 347.6L1796.2 357.3Z"/>
<path d="M1813.8 343.9L1822.4 343.9L1818.1 353.6Z"/>
<path d="M1829.2 343.9L1837.8 343.9L1833.5 353.6Z"/>
<path d="M1851.3 346.4L1859.9 346.4L1855.6 356.1Z"/>
<path d="M1806.3 354.5L1814.9 354.5L1810.6 364.2Z"/>
<path d="M1836.3 353.9L1844.9 353.9L1840.6 363.6Z"/>
<path d="M1773.0 379.5L1781.5 379.5L1777.2 389.2Z"/>
<path d="M1813.8 377.0L1822.4 377.0L1818.1 386.7Z"/>
<path d="M1829.5 377.0L1838.0 377.0L1833.8 386.7Z"/>
<path d="M1870.1 379.1L1878.7 379.1L1874.4 388.8Z"/>
<path d="M1783.8 385.7L1792.4 385.7L1788.1 395.4Z"/>
<path d="M1794.5 385.7L1803.0 385.7L1798.8 395.4Z"/>
<path d="M1805.5 387.0L1814.0 387.0L1809.8 396.7Z"/>
<path d="M1837.6 385.7L1846.2 385.7L1841.9 395.4Z"/>
<path d="M1848.2 385.7L1856.8 385.7L1852.5 395.4Z"/>
<path d="M1858.8 383.6L1867.4 383.6L1863.1 393.3Z"/>
<path d="M1815.1 391.4L1823.7 391.4L1819.4 401.1Z"/>
<path d="M1828.2 391.4L1836.8 391.4L1832.5 401.1Z"/>
<path d="M1765.1 398.9L1773.7 398.9L1769.4 408.6Z"/>
<path d="M1863.8 400.1L1872.4 400.1L1868.1 409.8Z"/>
<path d="M1878.5 397.6L1887.0 397.6L1882.8 407.3Z"/>
<path d="M1778.2 405.1L1786.8 405.1L1782.5 414.8Z"/>
<path d="M1765.1 413.2L1773.7 413.2L1769.4 422.9Z"/>
<path d="M1778.0 416.4L1786.5 416.4L1782.2 426.1Z"/>
<path d="M1790.5 420.1L1799.0 420.1L1794.8 429.8Z"/>
<path d="M1803.0 421.4L1811.5 421.4L1807.2 431.1Z"/>
<path d="M1814.5 426.4L1823.0 426.4L1818.8 436.1Z"/>
<path d="M1828.2 422.0L1836.8 422.0L1832.5 431.7Z"/>
<path d="M1840.1 420.1L1848.7 420.1L1844.4 429.8Z"/>
<path d="M1852.6 419.5L1861.2 419.5L1856.9 429.2Z"/>
<path d="M1864.7 415.7L1873.3 415.7L1869.0 425.4Z"/>
<path d="M1877.6 412.6L1886.2 412.6L1881.9 422.3Z"/>
<path d="M1807.0 411.4L1815.5 411.4L1811.2 421.1Z"/>
<path d="M1792.0 410.1L1800.5 410.1L1796.2 419.8Z"/>
<path d="M1835.7 410.7L1844.3 410.7L1840.0 420.4Z"/>
<path d="M1850.7 410.1L1859.3 410.1L1855.0 419.8Z"/>
<path d="M1769.5 433.9L1778.0 433.9L1773.8 443.6Z"/>
<path d="M1784.2 438.9L1792.8 438.9L1788.5 448.6Z"/>
<path d="M1873.8 436.4L1882.4 436.4L1878.1 446.1Z"/>
<path d="M1799.2 444.5L1807.8 444.5L1803.5 454.2Z"/>
<path d="M1813.8 445.1L1822.4 445.1L1818.1 454.8Z"/>
<path d="M1829.5 446.4L1838.0 446.4L1833.8 456.1Z"/>
<path d="M1843.8 445.1L1852.4 445.1L1848.1 454.8Z"/>
<path d="M1858.8 443.2L1867.4 443.2L1863.1 452.9Z"/>
<path d="M1865.1 450.1L1873.7 450.1L1869.4 459.8Z"/>
<path d="M1877.6 448.9L1886.2 448.9L1881.9 458.6Z"/>
<path d="M1765.1 449.5L1773.7 449.5L1769.4 459.2Z"/>
<path d="M1778.0 457.0L1786.5 457.0L1782.2 466.7Z"/>
<path d="M1790.7 458.9L1799.3 458.9L1795.0 468.6Z"/>
<path d="M1803.0 462.6L1811.5 462.6L1807.2 472.3Z"/>
<path d="M1814.5 463.2L1823.0 463.2L1818.8 472.9Z"/>
<path d="M1828.2 463.2L1836.8 463.2L1832.5 472.9Z"/>
<path d="M1840.5 458.9L1849.0 458.9L1844.8 468.6Z"/>
<path d="M1852.6 459.5L1861.2 459.5L1856.9 469.2Z"/>
<path d="M1767.6 470.7L1776.2 470.7L1771.9 480.4Z"/>
<path d="M1778.2 472.0L1786.8 472.0L1782.5 481.7Z"/>
<path d="M1789.2 475.7L1797.8 475.7L1793.5 485.4Z"/>
<path d="M1800.1 477.0L1808.7 477.0L1804.4 486.7Z"/>
<path d="M1810.7 480.1L1819.3 480.1L1815.0 489.8Z"/>
<path d="M1832.2 478.9L1840.8 478.9L1836.5 488.6Z"/>
<path d="M1843.2 476.4L1851.8 476.4L1847.5 486.1Z"/>
<path d="M1853.8 473.2L1862.4 473.2L1858.1 482.9Z"/>
<path d="M1864.7 470.7L1873.3 470.7L1869.0 480.4Z"/>
<path d="M1875.7 467.6L1884.3 467.6L1880.0 477.3Z"/>
<path d="M1784.2 494.5L1792.8 494.5L1788.5 504.2Z"/>
<path d="M1858.8 490.7L1867.4 490.7L1863.1 500.4Z"/>
<path d="M1843.8 493.9L1852.4 493.9L1848.1 503.6Z"/>
<path d="M1791.7 503.2L1800.3 503.2L1796.0 512.9Z"/>
<path d="M1813.8 501.4L1822.4 501.4L1818.1 511.1Z"/>
<path d="M1829.5 501.4L1838.0 501.4L1833.8 511.1Z"/>
<path d="M1851.7 503.2L1860.3 503.2L1856.0 512.9Z"/>
<path d="M1806.3 512.0L1814.9 512.0L1810.6 521.7Z"/>
<path d="M1837.0 510.7L1845.5 510.7L1841.2 520.4Z"/>
<path d="M1821.3 517.0L1829.9 517.0L1825.6 526.7Z"/>
<path d="M1828.8 520.7L1837.4 520.7L1833.1 530.4Z"/>
<path d="M1813.8 535.7L1822.4 535.7L1818.1 545.4Z"/>
</g>
<g stroke="#000" fill="none">
<path stroke-width="5.5" d="M1202.8 508.1H1329.4"/>
<path stroke-width="7.4" d="M1266.1 483.5V532.8"/>
<path stroke-width="7.1" d="M1234.1 483.5H1298.1M1234.1 532.8H1298.1"/>
<path stroke-width="5.5" d="M1389.8 479.8H1515.4"/>
<path stroke-width="7.4" d="M1452.6 445.6V515.2"/>
<path stroke-width="7.1" d="M1420.6 445.6H1484.6M1420.6 515.2H1484.6"/>
<path stroke-width="5.5" d="M1576.5 444.4H1702.1"/>
<path stroke-width="7.4" d="M1639.3 389.4V500.6"/>
<path stroke-width="7.1" d="M1607.3 389.4H1671.3M1607.3 500.6H1671.3"/>
<path stroke-width="5.5" d="M1762.6 410.6H1888.6"/>
<path stroke-width="7.4" d="M1825.6 319.0V501.2"/>
<path stroke-width="7.1" d="M1793.4 319.0H1857.8M1793.4 501.2H1857.8"/>
</g>
<g stroke="#000" stroke-width="5.3" fill="none">
<path d="M1172.8 67.3V569.2"/>
<path d="M1159.0 566.6H1921.8"/>
<path d="M1159.0 483.8H1172.8"/>
<path d="M1159.0 401.1H1172.8"/>
<path d="M1159.0 318.3H1172.8"/>
<path d="M1159.0 235.5H1172.8"/>
<path d="M1159.0 152.8H1172.8"/>
<path d="M1159.0 70.0H1172.8"/>
<path d="M1266.8 566.6V581.6"/>
<path d="M1453.3 566.6V581.6"/>
<path d="M1639.7 566.6V581.6"/>
<path d="M1826.2 566.6V581.6"/>
</g>
<g class="tk" text-anchor="end">
<text transform="translate(1154.0 577.9) scale(0.965 1)">0</text>
<text transform="translate(1154.0 495.1) scale(0.965 1)">10</text>
<text transform="translate(1154.0 412.4) scale(0.965 1)">20</text>
<text transform="translate(1154.0 329.6) scale(0.965 1)">30</text>
<text transform="translate(1154.0 246.8) scale(0.965 1)">40</text>
<text transform="translate(1154.0 164.1) scale(0.965 1)">50</text>
<text transform="translate(1154.0 81.3) scale(0.965 1)">60</text>
</g>
<g class="tk" text-anchor="middle">
<text transform="translate(1265.9 620.0) scale(0.965 1)">F0/1</text>
<text transform="translate(1452.4 620.0) scale(0.965 1)">F2</text>
<text transform="translate(1638.8 620.0) scale(0.965 1)">F3</text>
<text transform="translate(1825.3 620.0) scale(0.965 1)">F4</text>
</g>
<text class="yt" transform="translate(1090 404.5) rotate(-90) scale(0.955 1)">LSM<tspan class="par" dx="-17.5" dy="-1.6">（</tspan><tspan class="kpa" dx="5.6">kPa</tspan><tspan class="par" dx="9.6">）</tspan></text>
<text class="an" x="1230" y="97.6">LSM</text>
<text class="an" x="1232" y="147.3"><tspan font-style="italic">r</tspan>=0.522</text>
</g>
<g id="p3">
<g fill="#646464" stroke="#4a4a4a" stroke-width="1.4" stroke-linejoin="round">
<circle cx="275.2" cy="1078.5" r="4.7"/>
<circle cx="275.2" cy="1095.2" r="4.7"/>
<circle cx="275.2" cy="1116.9" r="4.7"/>
<circle cx="275.2" cy="1138.5" r="4.7"/>
<circle cx="252.8" cy="1146.0" r="4.7"/>
<circle cx="267.5" cy="1153.1" r="4.7"/>
<circle cx="282.8" cy="1153.5" r="4.7"/>
<circle cx="297.8" cy="1152.5" r="4.7"/>
<circle cx="260.0" cy="1168.8" r="4.7"/>
<circle cx="290.0" cy="1170.0" r="4.7"/>
<circle cx="220.6" cy="1170.6" r="4.7"/>
<circle cx="230.0" cy="1172.5" r="4.7"/>
<circle cx="239.4" cy="1175.0" r="4.7"/>
<circle cx="248.1" cy="1178.1" r="4.7"/>
<circle cx="257.5" cy="1183.1" r="4.7"/>
<circle cx="266.2" cy="1185.0" r="4.7"/>
<circle cx="330.0" cy="1170.6" r="4.7"/>
<circle cx="320.6" cy="1171.2" r="4.7"/>
<circle cx="311.9" cy="1172.5" r="4.7"/>
<circle cx="302.5" cy="1176.2" r="4.7"/>
<circle cx="293.1" cy="1180.0" r="4.7"/>
<circle cx="284.4" cy="1183.8" r="4.7"/>
<circle cx="218.5" cy="1185.6" r="4.7"/>
<circle cx="331.5" cy="1188.8" r="4.7"/>
<circle cx="232.5" cy="1191.2" r="4.7"/>
<circle cx="246.9" cy="1198.8" r="4.7"/>
<circle cx="260.6" cy="1199.8" r="4.7"/>
<circle cx="289.0" cy="1199.8" r="4.7"/>
<circle cx="303.5" cy="1198.1" r="4.7"/>
<circle cx="317.5" cy="1197.5" r="4.7"/>
<circle cx="222.6" cy="1203.4" r="4.7"/>
<circle cx="227.0" cy="1204.5" r="4.7"/>
<circle cx="231.4" cy="1205.7" r="4.7"/>
<circle cx="235.8" cy="1206.8" r="4.7"/>
<circle cx="240.1" cy="1207.9" r="4.7"/>
<circle cx="244.5" cy="1209.0" r="4.7"/>
<circle cx="248.9" cy="1210.2" r="4.7"/>
<circle cx="253.3" cy="1211.3" r="4.7"/>
<circle cx="257.7" cy="1212.4" r="4.7"/>
<circle cx="262.0" cy="1213.5" r="4.7"/>
<circle cx="266.4" cy="1214.7" r="4.7"/>
<circle cx="270.8" cy="1215.8" r="4.7"/>
<circle cx="275.2" cy="1216.8" r="4.7"/>
<circle cx="279.6" cy="1215.7" r="4.7"/>
<circle cx="283.9" cy="1214.6" r="4.7"/>
<circle cx="288.3" cy="1213.4" r="4.7"/>
<circle cx="292.7" cy="1212.3" r="4.7"/>
<circle cx="297.1" cy="1211.2" r="4.7"/>
<circle cx="301.5" cy="1210.1" r="4.7"/>
<circle cx="305.8" cy="1208.9" r="4.7"/>
<circle cx="310.2" cy="1207.8" r="4.7"/>
<circle cx="314.6" cy="1206.7" r="4.7"/>
<circle cx="319.0" cy="1205.6" r="4.7"/>
<circle cx="323.4" cy="1204.4" r="4.7"/>
<circle cx="327.8" cy="1203.4" r="4.7"/>
<circle cx="222.5" cy="1218.1" r="4.7"/>
<circle cx="226.9" cy="1219.1" r="4.7"/>
<circle cx="231.2" cy="1220.0" r="4.7"/>
<circle cx="235.6" cy="1221.0" r="4.7"/>
<circle cx="240.0" cy="1222.0" r="4.7"/>
<circle cx="244.4" cy="1223.0" r="4.7"/>
<circle cx="248.8" cy="1224.1" r="4.7"/>
<circle cx="253.1" cy="1225.2" r="4.7"/>
<circle cx="257.5" cy="1226.4" r="4.7"/>
<circle cx="261.9" cy="1227.7" r="4.7"/>
<circle cx="266.2" cy="1229.0" r="4.7"/>
<circle cx="270.6" cy="1230.6" r="4.7"/>
<circle cx="275.0" cy="1232.9" r="4.7"/>
<circle cx="279.4" cy="1230.6" r="4.7"/>
<circle cx="283.8" cy="1229.0" r="4.7"/>
<circle cx="288.1" cy="1227.7" r="4.7"/>
<circle cx="292.5" cy="1226.4" r="4.7"/>
<circle cx="296.9" cy="1225.2" r="4.7"/>
<circle cx="301.2" cy="1224.1" r="4.7"/>
<circle cx="305.6" cy="1223.0" r="4.7"/>
<circle cx="310.0" cy="1222.0" r="4.7"/>
<circle cx="314.4" cy="1221.0" r="4.7"/>
<circle cx="318.8" cy="1220.0" r="4.7"/>
<circle cx="323.1" cy="1219.1" r="4.7"/>
<circle cx="327.5" cy="1218.1" r="4.7"/>
<rect x="449.1" y="1061.0" width="9.2" height="9.2"/>
<rect x="464.5" y="1074.2" width="9.2" height="9.2"/>
<rect x="464.5" y="1105.7" width="9.2" height="9.2"/>
<rect x="449.1" y="1108.5" width="9.2" height="9.2"/>
<rect x="434.5" y="1127.7" width="9.2" height="9.2"/>
<rect x="479.1" y="1132.3" width="9.2" height="9.2"/>
<rect x="449.1" y="1139.8" width="9.2" height="9.2"/>
<rect x="464.1" y="1142.9" width="9.2" height="9.2"/>
<rect x="426.6" y="1159.2" width="9.2" height="9.2"/>
<rect x="471.6" y="1160.4" width="9.2" height="9.2"/>
<rect x="486.6" y="1157.9" width="9.2" height="9.2"/>
<rect x="441.1" y="1163.5" width="9.2" height="9.2"/>
<rect x="448.3" y="1166.7" width="9.2" height="9.2"/>
<rect x="465.1" y="1171.7" width="9.2" height="9.2"/>
<rect x="406.4" y="1172.3" width="9.2" height="9.2"/>
<rect x="416.4" y="1174.8" width="9.2" height="9.2"/>
<rect x="426.4" y="1176.0" width="9.2" height="9.2"/>
<rect x="436.4" y="1177.3" width="9.2" height="9.2"/>
<rect x="446.4" y="1177.9" width="9.2" height="9.2"/>
<rect x="507.6" y="1172.9" width="9.2" height="9.2"/>
<rect x="497.6" y="1175.4" width="9.2" height="9.2"/>
<rect x="487.6" y="1176.7" width="9.2" height="9.2"/>
<rect x="477.6" y="1177.3" width="9.2" height="9.2"/>
<rect x="468.9" y="1177.9" width="9.2" height="9.2"/>
<rect x="420.1" y="1183.5" width="9.2" height="9.2"/>
<rect x="425.7" y="1184.1" width="9.2" height="9.2"/>
<rect x="431.3" y="1184.7" width="9.2" height="9.2"/>
<rect x="436.9" y="1185.3" width="9.2" height="9.2"/>
<rect x="442.5" y="1185.8" width="9.2" height="9.2"/>
<rect x="448.0" y="1186.4" width="9.2" height="9.2"/>
<rect x="453.6" y="1187.0" width="9.2" height="9.2"/>
<rect x="459.2" y="1187.0" width="9.2" height="9.2"/>
<rect x="464.8" y="1186.4" width="9.2" height="9.2"/>
<rect x="470.3" y="1185.8" width="9.2" height="9.2"/>
<rect x="475.9" y="1185.3" width="9.2" height="9.2"/>
<rect x="481.5" y="1184.7" width="9.2" height="9.2"/>
<rect x="487.1" y="1184.1" width="9.2" height="9.2"/>
<rect x="492.6" y="1183.5" width="9.2" height="9.2"/>
<rect x="397.6" y="1190.2" width="9.2" height="9.2"/>
<rect x="402.6" y="1190.7" width="9.2" height="9.2"/>
<rect x="407.5" y="1191.5" width="9.2" height="9.2"/>
<rect x="412.5" y="1192.3" width="9.2" height="9.2"/>
<rect x="417.4" y="1193.1" width="9.2" height="9.2"/>
<rect x="422.4" y="1193.8" width="9.2" height="9.2"/>
<rect x="427.3" y="1194.6" width="9.2" height="9.2"/>
<rect x="432.3" y="1195.4" width="9.2" height="9.2"/>
<rect x="437.2" y="1196.2" width="9.2" height="9.2"/>
<rect x="442.2" y="1196.9" width="9.2" height="9.2"/>
<rect x="447.1" y="1197.7" width="9.2" height="9.2"/>
<rect x="452.1" y="1198.5" width="9.2" height="9.2"/>
<rect x="457.0" y="1199.1" width="9.2" height="9.2"/>
<rect x="462.0" y="1198.3" width="9.2" height="9.2"/>
<rect x="466.9" y="1197.5" width="9.2" height="9.2"/>
<rect x="471.9" y="1196.7" width="9.2" height="9.2"/>
<rect x="476.8" y="1196.0" width="9.2" height="9.2"/>
<rect x="481.8" y="1195.2" width="9.2" height="9.2"/>
<rect x="486.7" y="1194.4" width="9.2" height="9.2"/>
<rect x="491.7" y="1193.6" width="9.2" height="9.2"/>
<rect x="496.6" y="1192.9" width="9.2" height="9.2"/>
<rect x="501.6" y="1192.1" width="9.2" height="9.2"/>
<rect x="506.5" y="1191.3" width="9.2" height="9.2"/>
<rect x="511.5" y="1190.5" width="9.2" height="9.2"/>
<rect x="516.4" y="1190.2" width="9.2" height="9.2"/>
<rect x="399.5" y="1200.7" width="9.2" height="9.2"/>
<rect x="404.5" y="1201.3" width="9.2" height="9.2"/>
<rect x="409.5" y="1202.4" width="9.2" height="9.2"/>
<rect x="414.4" y="1203.4" width="9.2" height="9.2"/>
<rect x="419.4" y="1204.5" width="9.2" height="9.2"/>
<rect x="424.4" y="1205.5" width="9.2" height="9.2"/>
<rect x="429.4" y="1206.6" width="9.2" height="9.2"/>
<rect x="434.3" y="1207.6" width="9.2" height="9.2"/>
<rect x="439.3" y="1208.7" width="9.2" height="9.2"/>
<rect x="444.3" y="1209.7" width="9.2" height="9.2"/>
<rect x="449.3" y="1210.8" width="9.2" height="9.2"/>
<rect x="454.2" y="1211.8" width="9.2" height="9.2"/>
<rect x="459.2" y="1211.7" width="9.2" height="9.2"/>
<rect x="464.2" y="1210.6" width="9.2" height="9.2"/>
<rect x="469.1" y="1209.6" width="9.2" height="9.2"/>
<rect x="474.1" y="1208.5" width="9.2" height="9.2"/>
<rect x="479.1" y="1207.5" width="9.2" height="9.2"/>
<rect x="484.1" y="1206.4" width="9.2" height="9.2"/>
<rect x="489.0" y="1205.4" width="9.2" height="9.2"/>
<rect x="494.0" y="1204.3" width="9.2" height="9.2"/>
<rect x="499.0" y="1203.3" width="9.2" height="9.2"/>
<rect x="504.0" y="1202.2" width="9.2" height="9.2"/>
<rect x="508.9" y="1201.2" width="9.2" height="9.2"/>
<rect x="513.9" y="1200.7" width="9.2" height="9.2"/>
<rect x="404.5" y="1217.3" width="9.2" height="9.2"/>
<rect x="419.5" y="1219.2" width="9.2" height="9.2"/>
<rect x="433.9" y="1222.3" width="9.2" height="9.2"/>
<rect x="449.1" y="1229.8" width="9.2" height="9.2"/>
<rect x="464.5" y="1222.9" width="9.2" height="9.2"/>
<rect x="479.1" y="1222.3" width="9.2" height="9.2"/>
<rect x="493.9" y="1217.3" width="9.2" height="9.2"/>
<rect x="508.6" y="1216.9" width="9.2" height="9.2"/>
<path d="M643.7 905.2L652.3 905.2L648.0 896.5Z"/>
<path d="M643.7 1013.0L652.3 1013.0L648.0 1004.2Z"/>
<path d="M636.2 1064.8L644.8 1064.8L640.5 1056.1Z"/>
<path d="M651.8 1064.8L660.4 1064.8L656.1 1056.1Z"/>
<path d="M628.7 1092.3L637.3 1092.3L633.0 1083.6Z"/>
<path d="M659.0 1090.5L667.5 1090.5L663.2 1081.8Z"/>
<path d="M628.7 1110.5L637.3 1110.5L633.0 1101.8Z"/>
<path d="M659.0 1115.5L667.5 1115.5L663.2 1106.8Z"/>
<path d="M621.8 1125.5L630.4 1125.5L626.1 1116.8Z"/>
<path d="M666.8 1129.2L675.4 1129.2L671.1 1120.5Z"/>
<path d="M636.2 1135.5L644.8 1135.5L640.5 1126.8Z"/>
<path d="M651.5 1137.3L660.0 1137.3L655.8 1128.6Z"/>
<path d="M628.7 1148.6L637.3 1148.6L633.0 1139.9Z"/>
<path d="M659.0 1149.8L667.5 1149.8L663.2 1141.1Z"/>
<path d="M591.5 1165.5L600.0 1165.5L595.8 1156.8Z"/>
<path d="M606.8 1170.2L615.4 1170.2L611.1 1161.5Z"/>
<path d="M621.5 1170.5L630.0 1170.5L625.8 1161.8Z"/>
<path d="M636.2 1176.1L644.8 1176.1L640.5 1167.4Z"/>
<path d="M651.5 1178.6L660.0 1178.6L655.8 1169.9Z"/>
<path d="M666.5 1173.6L675.0 1173.6L670.8 1164.9Z"/>
<path d="M681.2 1170.2L689.8 1170.2L685.5 1161.5Z"/>
<path d="M696.2 1169.0L704.8 1169.0L700.5 1160.2Z"/>
<path d="M588.1 1186.1L596.7 1186.1L592.4 1177.4Z"/>
<path d="M600.2 1187.3L608.8 1187.3L604.5 1178.6Z"/>
<path d="M612.7 1188.6L621.3 1188.6L617.0 1179.9Z"/>
<path d="M625.2 1189.8L633.8 1189.8L629.5 1181.1Z"/>
<path d="M636.2 1193.6L644.8 1193.6L640.5 1184.9Z"/>
<path d="M651.2 1193.0L659.8 1193.0L655.5 1184.2Z"/>
<path d="M662.7 1189.0L671.3 1189.0L667.0 1180.2Z"/>
<path d="M675.0 1188.0L683.5 1188.0L679.2 1179.2Z"/>
<path d="M687.5 1186.7L696.0 1186.7L691.8 1178.0Z"/>
<path d="M700.0 1183.6L708.5 1183.6L704.2 1174.9Z"/>
<path d="M590.0 1201.5L598.5 1201.5L594.2 1192.8Z"/>
<path d="M600.6 1204.2L609.2 1204.2L604.9 1195.5Z"/>
<path d="M611.8 1204.2L620.4 1204.2L616.1 1195.5Z"/>
<path d="M622.5 1210.5L631.0 1210.5L626.8 1201.8Z"/>
<path d="M633.1 1213.6L641.7 1213.6L637.4 1204.9Z"/>
<path d="M655.0 1213.0L663.5 1213.0L659.2 1204.2Z"/>
<path d="M665.6 1205.5L674.2 1205.5L669.9 1196.8Z"/>
<path d="M676.2 1204.2L684.8 1204.2L680.5 1195.5Z"/>
<path d="M687.5 1201.1L696.0 1201.1L691.8 1192.4Z"/>
<path d="M698.1 1199.5L706.7 1199.5L702.4 1190.8Z"/>
<path d="M621.5 1220.5L630.0 1220.5L625.8 1211.8Z"/>
<path d="M666.5 1218.2L675.0 1218.2L670.8 1209.5Z"/>
<path d="M636.2 1231.1L644.8 1231.1L640.5 1222.4Z"/>
<path d="M651.5 1228.6L660.0 1228.6L655.8 1219.9Z"/>
<path d="M830.3 880.1L838.9 880.1L834.6 889.8Z"/>
<path d="M830.3 897.9L838.9 897.9L834.6 907.5Z"/>
<path d="M830.3 957.0L838.9 957.0L834.6 966.7Z"/>
<path d="M830.3 980.7L838.9 980.7L834.6 990.4Z"/>
<path d="M830.3 1014.1L838.9 1014.1L834.6 1023.8Z"/>
<path d="M837.8 1032.6L846.4 1032.6L842.1 1042.3Z"/>
<path d="M815.3 1040.1L823.9 1040.1L819.6 1049.8Z"/>
<path d="M822.8 1048.2L831.4 1048.2L827.1 1057.9Z"/>
<path d="M837.8 1055.1L846.4 1055.1L842.1 1064.8Z"/>
<path d="M808.2 1075.1L816.8 1075.1L812.5 1084.8Z"/>
<path d="M853.2 1072.6L861.8 1072.6L857.5 1082.3Z"/>
<path d="M837.8 1077.6L846.4 1077.6L842.1 1087.3Z"/>
<path d="M778.2 1097.0L786.8 1097.0L782.5 1106.7Z"/>
<path d="M792.8 1100.7L801.4 1100.7L797.1 1110.4Z"/>
<path d="M860.3 1098.2L868.9 1098.2L864.6 1107.9Z"/>
<path d="M875.3 1096.3L883.9 1096.3L879.6 1106.0Z"/>
<path d="M800.3 1108.2L808.9 1108.2L804.6 1117.9Z"/>
<path d="M808.2 1107.0L816.8 1107.0L812.5 1116.7Z"/>
<path d="M845.3 1107.0L853.9 1107.0L849.6 1116.7Z"/>
<path d="M867.8 1108.6L876.4 1108.6L872.1 1118.3Z"/>
<path d="M815.3 1117.8L823.9 1117.8L819.6 1127.5Z"/>
<path d="M852.8 1122.3L861.4 1122.3L857.1 1132.0Z"/>
<path d="M785.7 1125.1L794.3 1125.1L790.0 1134.8Z"/>
<path d="M860.3 1128.2L868.9 1128.2L864.6 1137.9Z"/>
<path d="M875.0 1125.3L883.5 1125.3L879.2 1135.0Z"/>
<path d="M800.3 1133.8L808.9 1133.8L804.6 1143.5Z"/>
<path d="M815.3 1137.0L823.9 1137.0L819.6 1146.7Z"/>
<path d="M845.3 1137.0L853.9 1137.0L849.6 1146.7Z"/>
<path d="M773.7 1142.6L782.3 1142.6L778.0 1152.3Z"/>
<path d="M788.2 1142.6L796.8 1142.6L792.5 1152.3Z"/>
<path d="M837.5 1143.2L846.0 1143.2L841.8 1152.9Z"/>
<path d="M802.2 1147.6L810.8 1147.6L806.5 1157.3Z"/>
<path d="M880.3 1147.6L888.9 1147.6L884.6 1157.3Z"/>
<path d="M816.0 1153.8L824.5 1153.8L820.2 1163.5Z"/>
<path d="M851.6 1155.7L860.2 1155.7L855.9 1165.4Z"/>
<path d="M865.3 1153.2L873.9 1153.2L869.6 1162.9Z"/>
<path d="M773.7 1160.7L782.3 1160.7L778.0 1170.4Z"/>
<path d="M788.2 1164.5L796.8 1164.5L792.5 1174.2Z"/>
<path d="M802.2 1167.6L810.8 1167.6L806.5 1177.3Z"/>
<path d="M816.2 1170.7L824.8 1170.7L820.5 1180.4Z"/>
<path d="M822.2 1173.8L830.8 1173.8L826.5 1183.5Z"/>
<path d="M837.5 1173.2L846.0 1173.2L841.8 1182.9Z"/>
<path d="M844.5 1167.6L853.0 1167.6L848.8 1177.3Z"/>
<path d="M858.7 1164.5L867.3 1164.5L863.0 1174.2Z"/>
<path d="M872.5 1162.6L881.0 1162.6L876.8 1172.3Z"/>
<path d="M887.0 1160.3L895.5 1160.3L891.2 1170.0Z"/>
<path d="M779.7 1177.6L788.3 1177.6L784.0 1187.3Z"/>
<path d="M789.7 1180.1L798.3 1180.1L794.0 1189.8Z"/>
<path d="M798.5 1185.1L807.0 1185.1L802.8 1194.8Z"/>
<path d="M807.8 1186.3L816.4 1186.3L812.1 1196.0Z"/>
<path d="M816.6 1187.0L825.2 1187.0L820.9 1196.7Z"/>
<path d="M843.5 1185.7L852.0 1185.7L847.8 1195.4Z"/>
<path d="M852.8 1185.1L861.4 1185.1L857.1 1194.8Z"/>
<path d="M862.2 1182.6L870.8 1182.6L866.5 1192.3Z"/>
<path d="M871.6 1178.2L880.2 1178.2L875.9 1187.9Z"/>
<path d="M881.0 1175.1L889.5 1175.1L885.2 1184.8Z"/>
<path d="M776.6 1192.6L785.2 1192.6L780.9 1202.3Z"/>
<path d="M782.2 1195.7L790.8 1195.7L786.5 1205.4Z"/>
<path d="M787.8 1197.0L796.4 1197.0L792.1 1206.7Z"/>
<path d="M793.5 1198.0L802.0 1198.0L797.8 1207.7Z"/>
<path d="M799.1 1198.8L807.7 1198.8L803.4 1208.5Z"/>
<path d="M804.7 1199.8L813.3 1199.8L809.0 1209.5Z"/>
<path d="M810.3 1200.6L818.9 1200.6L814.6 1210.3Z"/>
<path d="M815.3 1201.6L823.9 1201.6L819.6 1211.3Z"/>
<path d="M819.7 1203.2L828.3 1203.2L824.0 1212.9Z"/>
<path d="M822.8 1207.6L831.4 1207.6L827.1 1217.3Z"/>
<path d="M884.7 1192.0L893.3 1192.0L889.0 1201.7Z"/>
<path d="M879.1 1194.6L887.7 1194.6L883.4 1204.3Z"/>
<path d="M873.5 1195.8L882.0 1195.8L877.8 1205.5Z"/>
<path d="M867.8 1196.8L876.4 1196.8L872.1 1206.5Z"/>
<path d="M862.2 1197.8L870.8 1197.8L866.5 1207.5Z"/>
<path d="M856.6 1198.8L865.2 1198.8L860.9 1208.5Z"/>
<path d="M851.0 1199.8L859.5 1199.8L855.2 1209.5Z"/>
<path d="M845.7 1200.8L854.3 1200.8L850.0 1210.5Z"/>
<path d="M841.2 1202.3L849.8 1202.3L845.5 1212.0Z"/>
<path d="M837.2 1206.3L845.8 1206.3L841.5 1216.0Z"/>
<path d="M779.7 1214.5L788.3 1214.5L784.0 1224.2Z"/>
<path d="M789.5 1215.7L798.0 1215.7L793.8 1225.4Z"/>
<path d="M799.1 1217.0L807.7 1217.0L803.4 1226.7Z"/>
<path d="M881.0 1212.6L889.5 1212.6L885.2 1222.3Z"/>
<path d="M871.6 1214.5L880.2 1214.5L875.9 1224.2Z"/>
<path d="M862.2 1215.1L870.8 1215.1L866.5 1224.8Z"/>
<path d="M807.5 1224.5L816.0 1224.5L811.8 1234.2Z"/>
<path d="M816.6 1226.3L825.2 1226.3L820.9 1236.0Z"/>
<path d="M825.7 1227.0L834.3 1227.0L830.0 1236.7Z"/>
<path d="M834.7 1226.3L843.3 1226.3L839.0 1236.0Z"/>
<path d="M844.1 1223.8L852.7 1223.8L848.4 1233.5Z"/>
</g>
<g stroke="#000" fill="none">
<path stroke-width="5.5" d="M212.3 1192.2H338.3"/>
<path stroke-width="7.4" d="M275.3 1160.6V1224.8"/>
<path stroke-width="7.1" d="M243.5 1160.6H307.1M243.5 1224.8H307.1"/>
<path stroke-width="5.5" d="M398.5 1187.5H524.5"/>
<path stroke-width="7.4" d="M461.5 1154.8V1221.2"/>
<path stroke-width="7.1" d="M429.7 1154.8H493.3M429.7 1221.2H493.3"/>
<path stroke-width="5.5" d="M585.0 1139.0H711.0"/>
<path stroke-width="7.4" d="M648.0 1032.2V1244.5"/>
<path stroke-width="7.1" d="M616.0 1032.2H680.0M616.0 1244.5H680.0"/>
<path stroke-width="5.5" d="M771.6 1155.2H897.2"/>
<path stroke-width="7.4" d="M834.4 1087.5V1222.8"/>
<path stroke-width="7.1" d="M802.6 1087.5H866.2M802.6 1222.8H866.2"/>
</g>
<g stroke="#000" stroke-width="5.3" fill="none">
<path d="M181.5 748.8V1252.2"/>
<path d="M167.7 1249.5H929.9"/>
<path d="M167.7 1166.5H181.5"/>
<path d="M167.7 1083.5H181.5"/>
<path d="M167.7 1000.4H181.5"/>
<path d="M167.7 917.4H181.5"/>
<path d="M167.7 834.4H181.5"/>
<path d="M167.7 751.4H181.5"/>
<path d="M275.2 1249.5V1264.5"/>
<path d="M461.6 1249.5V1264.5"/>
<path d="M648.1 1249.5V1264.5"/>
<path d="M834.5 1249.5V1264.5"/>
</g>
<g class="tk" text-anchor="end">
<text transform="translate(162.7 1260.8) scale(0.965 1)">0</text>
<text transform="translate(162.7 1177.8) scale(0.965 1)">1</text>
<text transform="translate(162.7 1094.8) scale(0.965 1)">2</text>
<text transform="translate(162.7 1011.7) scale(0.965 1)">3</text>
<text transform="translate(162.7 928.7) scale(0.965 1)">4</text>
<text transform="translate(162.7 845.7) scale(0.965 1)">5</text>
<text transform="translate(162.7 762.7) scale(0.965 1)">6</text>
</g>
<g class="tk" text-anchor="middle">
<text transform="translate(274.3 1301.7) scale(0.965 1)">F0/1</text>
<text transform="translate(460.7 1301.7) scale(0.965 1)">F2</text>
<text transform="translate(647.2 1301.7) scale(0.965 1)">F3</text>
<text transform="translate(833.6 1301.7) scale(0.965 1)">F4</text>
</g>
<text class="yt" text-anchor="middle" transform="translate(118 1000.8) rotate(-90) scale(0.93 1)">APRI</text>
<text class="an" x="256.2" y="789.5">APRI</text>
<text class="an" x="253.6" y="839.5"><tspan font-style="italic">r</tspan>=0.256</text>
</g>
<g id="p4">
<g fill="#646464" stroke="#4a4a4a" stroke-width="1.4" stroke-linejoin="round">
<circle cx="1266.6" cy="1022.8" r="4.7"/>
<circle cx="1266.6" cy="1093.1" r="4.7"/>
<circle cx="1266.6" cy="1151.0" r="4.7"/>
<circle cx="1214.5" cy="1161.9" r="4.7"/>
<circle cx="1319.1" cy="1161.0" r="4.7"/>
<circle cx="1228.8" cy="1166.9" r="4.7"/>
<circle cx="1303.8" cy="1166.2" r="4.7"/>
<circle cx="1243.8" cy="1173.8" r="4.7"/>
<circle cx="1258.8" cy="1176.2" r="4.7"/>
<circle cx="1273.8" cy="1175.6" r="4.7"/>
<circle cx="1289.1" cy="1170.0" r="4.7"/>
<circle cx="1210.4" cy="1181.9" r="4.7"/>
<circle cx="1222.9" cy="1185.6" r="4.7"/>
<circle cx="1235.0" cy="1187.5" r="4.7"/>
<circle cx="1247.2" cy="1190.0" r="4.7"/>
<circle cx="1259.5" cy="1193.1" r="4.7"/>
<circle cx="1272.2" cy="1193.1" r="4.7"/>
<circle cx="1285.0" cy="1192.5" r="4.7"/>
<circle cx="1297.2" cy="1189.4" r="4.7"/>
<circle cx="1309.8" cy="1185.6" r="4.7"/>
<circle cx="1328.8" cy="1185.0" r="4.7"/>
<circle cx="1210.4" cy="1196.2" r="4.7"/>
<circle cx="1322.2" cy="1194.4" r="4.7"/>
<circle cx="1210.4" cy="1226.9" r="4.7"/>
<circle cx="1224.1" cy="1228.8" r="4.7"/>
<circle cx="1308.5" cy="1228.8" r="4.7"/>
<circle cx="1322.9" cy="1228.1" r="4.7"/>
<circle cx="1238.5" cy="1228.8" r="4.7"/>
<circle cx="1252.2" cy="1235.0" r="4.7"/>
<circle cx="1280.4" cy="1236.9" r="4.7"/>
<circle cx="1294.8" cy="1234.4" r="4.7"/>
<circle cx="1266.6" cy="1241.2" r="4.7"/>
<circle cx="1222.2" cy="1204.8" r="4.7"/>
<circle cx="1226.6" cy="1205.3" r="4.7"/>
<circle cx="1230.9" cy="1205.8" r="4.7"/>
<circle cx="1235.3" cy="1206.3" r="4.7"/>
<circle cx="1239.6" cy="1206.8" r="4.7"/>
<circle cx="1244.0" cy="1207.4" r="4.7"/>
<circle cx="1248.3" cy="1207.9" r="4.7"/>
<circle cx="1252.6" cy="1208.4" r="4.7"/>
<circle cx="1257.0" cy="1208.9" r="4.7"/>
<circle cx="1261.3" cy="1209.4" r="4.7"/>
<circle cx="1265.7" cy="1210.0" r="4.7"/>
<circle cx="1270.0" cy="1209.5" r="4.7"/>
<circle cx="1274.4" cy="1209.0" r="4.7"/>
<circle cx="1278.7" cy="1208.5" r="4.7"/>
<circle cx="1283.0" cy="1208.0" r="4.7"/>
<circle cx="1287.4" cy="1207.4" r="4.7"/>
<circle cx="1291.7" cy="1206.9" r="4.7"/>
<circle cx="1296.1" cy="1206.4" r="4.7"/>
<circle cx="1300.4" cy="1205.9" r="4.7"/>
<circle cx="1304.8" cy="1205.3" r="4.7"/>
<circle cx="1212.8" cy="1211.9" r="4.7"/>
<circle cx="1217.1" cy="1213.0" r="4.7"/>
<circle cx="1221.4" cy="1214.2" r="4.7"/>
<circle cx="1225.7" cy="1215.4" r="4.7"/>
<circle cx="1230.0" cy="1216.5" r="4.7"/>
<circle cx="1234.3" cy="1217.7" r="4.7"/>
<circle cx="1238.6" cy="1218.9" r="4.7"/>
<circle cx="1242.9" cy="1220.0" r="4.7"/>
<circle cx="1247.2" cy="1221.2" r="4.7"/>
<circle cx="1251.5" cy="1222.3" r="4.7"/>
<circle cx="1255.8" cy="1223.5" r="4.7"/>
<circle cx="1260.2" cy="1224.7" r="4.7"/>
<circle cx="1264.5" cy="1225.8" r="4.7"/>
<circle cx="1268.8" cy="1225.5" r="4.7"/>
<circle cx="1273.1" cy="1224.3" r="4.7"/>
<circle cx="1277.4" cy="1223.2" r="4.7"/>
<circle cx="1281.7" cy="1222.0" r="4.7"/>
<circle cx="1286.0" cy="1220.8" r="4.7"/>
<circle cx="1290.3" cy="1219.7" r="4.7"/>
<circle cx="1294.6" cy="1218.5" r="4.7"/>
<circle cx="1299.0" cy="1217.4" r="4.7"/>
<circle cx="1303.3" cy="1216.2" r="4.7"/>
<circle cx="1307.6" cy="1215.0" r="4.7"/>
<circle cx="1311.9" cy="1213.9" r="4.7"/>
<circle cx="1316.2" cy="1212.7" r="4.7"/>
<circle cx="1320.5" cy="1211.8" r="4.7"/>
<rect x="1447.9" y="879.4" width="9.2" height="9.2"/>
<rect x="1447.8" y="1099.8" width="9.2" height="9.2"/>
<rect x="1447.8" y="1122.9" width="9.2" height="9.2"/>
<rect x="1418.2" y="1132.3" width="9.2" height="9.2"/>
<rect x="1478.4" y="1136.7" width="9.2" height="9.2"/>
<rect x="1432.2" y="1142.9" width="9.2" height="9.2"/>
<rect x="1464.0" y="1144.8" width="9.2" height="9.2"/>
<rect x="1440.3" y="1151.0" width="9.2" height="9.2"/>
<rect x="1456.2" y="1150.4" width="9.2" height="9.2"/>
<rect x="1403.4" y="1156.4" width="9.2" height="9.2"/>
<rect x="1492.8" y="1153.5" width="9.2" height="9.2"/>
<rect x="1477.8" y="1160.4" width="9.2" height="9.2"/>
<rect x="1418.2" y="1162.3" width="9.2" height="9.2"/>
<rect x="1432.8" y="1163.5" width="9.2" height="9.2"/>
<rect x="1456.2" y="1163.5" width="9.2" height="9.2"/>
<rect x="1425.7" y="1171.0" width="9.2" height="9.2"/>
<rect x="1470.9" y="1174.8" width="9.2" height="9.2"/>
<rect x="1439.7" y="1176.0" width="9.2" height="9.2"/>
<rect x="1456.2" y="1179.2" width="9.2" height="9.2"/>
<rect x="1392.8" y="1180.4" width="9.2" height="9.2"/>
<rect x="1502.8" y="1180.7" width="9.2" height="9.2"/>
<rect x="1398.4" y="1189.8" width="9.2" height="9.2"/>
<rect x="1403.4" y="1190.4" width="9.2" height="9.2"/>
<rect x="1408.4" y="1191.0" width="9.2" height="9.2"/>
<rect x="1413.4" y="1191.5" width="9.2" height="9.2"/>
<rect x="1418.4" y="1192.1" width="9.2" height="9.2"/>
<rect x="1423.4" y="1192.7" width="9.2" height="9.2"/>
<rect x="1428.4" y="1193.3" width="9.2" height="9.2"/>
<rect x="1433.4" y="1193.9" width="9.2" height="9.2"/>
<rect x="1438.4" y="1194.5" width="9.2" height="9.2"/>
<rect x="1443.4" y="1195.1" width="9.2" height="9.2"/>
<rect x="1448.4" y="1195.7" width="9.2" height="9.2"/>
<rect x="1453.4" y="1195.1" width="9.2" height="9.2"/>
<rect x="1458.4" y="1194.5" width="9.2" height="9.2"/>
<rect x="1463.4" y="1193.9" width="9.2" height="9.2"/>
<rect x="1468.4" y="1193.3" width="9.2" height="9.2"/>
<rect x="1473.4" y="1192.7" width="9.2" height="9.2"/>
<rect x="1478.4" y="1192.1" width="9.2" height="9.2"/>
<rect x="1483.4" y="1191.5" width="9.2" height="9.2"/>
<rect x="1488.4" y="1191.0" width="9.2" height="9.2"/>
<rect x="1493.4" y="1190.4" width="9.2" height="9.2"/>
<rect x="1498.4" y="1189.8" width="9.2" height="9.2"/>
<rect x="1391.7" y="1197.5" width="9.2" height="9.2"/>
<rect x="1396.8" y="1199.0" width="9.2" height="9.2"/>
<rect x="1401.9" y="1200.6" width="9.2" height="9.2"/>
<rect x="1407.0" y="1202.2" width="9.2" height="9.2"/>
<rect x="1412.1" y="1203.8" width="9.2" height="9.2"/>
<rect x="1417.2" y="1205.4" width="9.2" height="9.2"/>
<rect x="1422.3" y="1207.0" width="9.2" height="9.2"/>
<rect x="1427.4" y="1208.6" width="9.2" height="9.2"/>
<rect x="1432.6" y="1210.2" width="9.2" height="9.2"/>
<rect x="1437.7" y="1211.8" width="9.2" height="9.2"/>
<rect x="1442.8" y="1213.4" width="9.2" height="9.2"/>
<rect x="1447.9" y="1215.0" width="9.2" height="9.2"/>
<rect x="1453.0" y="1213.7" width="9.2" height="9.2"/>
<rect x="1458.1" y="1212.1" width="9.2" height="9.2"/>
<rect x="1463.2" y="1210.5" width="9.2" height="9.2"/>
<rect x="1468.4" y="1208.9" width="9.2" height="9.2"/>
<rect x="1473.5" y="1207.3" width="9.2" height="9.2"/>
<rect x="1478.6" y="1205.7" width="9.2" height="9.2"/>
<rect x="1483.7" y="1204.1" width="9.2" height="9.2"/>
<rect x="1488.8" y="1202.5" width="9.2" height="9.2"/>
<rect x="1493.9" y="1200.9" width="9.2" height="9.2"/>
<rect x="1499.0" y="1199.3" width="9.2" height="9.2"/>
<rect x="1504.2" y="1197.7" width="9.2" height="9.2"/>
<rect x="1395.4" y="1220.7" width="9.2" height="9.2"/>
<rect x="1400.2" y="1221.1" width="9.2" height="9.2"/>
<rect x="1405.0" y="1221.6" width="9.2" height="9.2"/>
<rect x="1409.9" y="1222.1" width="9.2" height="9.2"/>
<rect x="1414.7" y="1222.6" width="9.2" height="9.2"/>
<rect x="1419.5" y="1223.1" width="9.2" height="9.2"/>
<rect x="1424.3" y="1223.6" width="9.2" height="9.2"/>
<rect x="1429.1" y="1224.1" width="9.2" height="9.2"/>
<rect x="1433.9" y="1224.5" width="9.2" height="9.2"/>
<rect x="1438.8" y="1225.0" width="9.2" height="9.2"/>
<rect x="1443.6" y="1225.5" width="9.2" height="9.2"/>
<rect x="1448.4" y="1226.0" width="9.2" height="9.2"/>
<rect x="1450.4" y="1225.7" width="9.2" height="9.2"/>
<rect x="1455.2" y="1225.1" width="9.2" height="9.2"/>
<rect x="1459.9" y="1224.4" width="9.2" height="9.2"/>
<rect x="1464.7" y="1223.7" width="9.2" height="9.2"/>
<rect x="1469.4" y="1223.0" width="9.2" height="9.2"/>
<rect x="1474.2" y="1222.4" width="9.2" height="9.2"/>
<rect x="1478.9" y="1221.7" width="9.2" height="9.2"/>
<rect x="1483.7" y="1221.0" width="9.2" height="9.2"/>
<rect x="1488.4" y="1220.3" width="9.2" height="9.2"/>
<rect x="1493.2" y="1219.6" width="9.2" height="9.2"/>
<rect x="1497.9" y="1219.0" width="9.2" height="9.2"/>
<path d="M1635.0 801.7L1643.5 801.7L1639.2 793.0Z"/>
<path d="M1620.0 909.2L1628.5 909.2L1624.2 900.5Z"/>
<path d="M1650.0 902.7L1658.5 902.7L1654.2 894.0Z"/>
<path d="M1635.0 917.7L1643.5 917.7L1639.2 909.0Z"/>
<path d="M1627.5 1020.7L1636.0 1020.7L1631.8 1012.0Z"/>
<path d="M1642.8 1020.2L1651.4 1020.2L1647.1 1011.5Z"/>
<path d="M1627.2 1074.2L1635.8 1074.2L1631.5 1065.5Z"/>
<path d="M1643.2 1086.7L1651.8 1086.7L1647.5 1078.0Z"/>
<path d="M1620.0 1100.5L1628.5 1100.5L1624.2 1091.8Z"/>
<path d="M1650.3 1109.8L1658.9 1109.8L1654.6 1101.1Z"/>
<path d="M1598.2 1122.0L1606.8 1122.0L1602.5 1113.2Z"/>
<path d="M1612.8 1127.7L1621.4 1127.7L1617.1 1119.0Z"/>
<path d="M1627.5 1131.1L1636.0 1131.1L1631.8 1122.4Z"/>
<path d="M1642.8 1131.5L1651.4 1131.5L1647.1 1122.8Z"/>
<path d="M1657.5 1130.5L1666.0 1130.5L1661.8 1121.8Z"/>
<path d="M1672.5 1123.0L1681.0 1123.0L1676.8 1114.2Z"/>
<path d="M1672.5 1152.3L1681.0 1152.3L1676.8 1143.6Z"/>
<path d="M1598.2 1157.3L1606.8 1157.3L1602.5 1148.6Z"/>
<path d="M1612.8 1163.6L1621.4 1163.6L1617.1 1154.9Z"/>
<path d="M1627.5 1166.7L1636.0 1166.7L1631.8 1158.0Z"/>
<path d="M1642.8 1166.1L1651.4 1166.1L1647.1 1157.4Z"/>
<path d="M1657.5 1163.0L1666.0 1163.0L1661.8 1154.2Z"/>
<path d="M1578.7 1179.0L1587.3 1179.0L1583.0 1170.2Z"/>
<path d="M1592.8 1180.7L1601.4 1180.7L1597.1 1172.0Z"/>
<path d="M1607.2 1183.6L1615.8 1183.6L1611.5 1174.9Z"/>
<path d="M1621.0 1186.1L1629.5 1186.1L1625.2 1177.4Z"/>
<path d="M1649.5 1184.8L1658.0 1184.8L1653.8 1176.1Z"/>
<path d="M1663.5 1180.7L1672.0 1180.7L1667.8 1172.0Z"/>
<path d="M1677.5 1179.2L1686.0 1179.2L1681.8 1170.5Z"/>
<path d="M1691.6 1174.5L1700.2 1174.5L1695.9 1165.8Z"/>
<path d="M1598.2 1194.5L1606.8 1194.5L1602.5 1185.8Z"/>
<path d="M1612.5 1196.7L1621.0 1196.7L1616.8 1188.0Z"/>
<path d="M1627.2 1202.3L1635.8 1202.3L1631.5 1193.6Z"/>
<path d="M1643.2 1201.7L1651.8 1201.7L1647.5 1193.0Z"/>
<path d="M1657.5 1196.5L1666.0 1196.5L1661.8 1187.8Z"/>
<path d="M1672.5 1194.8L1681.0 1194.8L1676.8 1186.1Z"/>
<path d="M1578.7 1207.3L1587.3 1207.3L1583.0 1198.6Z"/>
<path d="M1592.8 1210.5L1601.4 1210.5L1597.1 1201.8Z"/>
<path d="M1607.2 1213.0L1615.8 1213.0L1611.5 1204.2Z"/>
<path d="M1605.3 1219.2L1613.9 1219.2L1609.6 1210.5Z"/>
<path d="M1620.7 1218.0L1629.3 1218.0L1625.0 1209.2Z"/>
<path d="M1620.3 1224.8L1628.9 1224.8L1624.6 1216.1Z"/>
<path d="M1649.5 1216.7L1658.0 1216.7L1653.8 1208.0Z"/>
<path d="M1663.2 1211.1L1671.8 1211.1L1667.5 1202.4Z"/>
<path d="M1665.3 1219.8L1673.9 1219.8L1669.6 1211.1Z"/>
<path d="M1677.5 1209.8L1686.0 1209.8L1681.8 1201.1Z"/>
<path d="M1692.0 1204.8L1700.5 1204.8L1696.2 1196.1Z"/>
<path d="M1650.3 1230.5L1658.9 1230.5L1654.6 1221.8Z"/>
<path d="M1821.3 808.6L1829.9 808.6L1825.6 818.3Z"/>
<path d="M1813.8 957.6L1822.4 957.6L1818.1 967.3Z"/>
<path d="M1829.2 954.5L1837.8 954.5L1833.5 964.2Z"/>
<path d="M1821.7 1017.9L1830.3 1017.9L1826.0 1027.5Z"/>
<path d="M1791.7 1042.3L1800.3 1042.3L1796.0 1052.0Z"/>
<path d="M1843.8 1041.3L1852.4 1041.3L1848.1 1051.0Z"/>
<path d="M1828.8 1047.0L1837.4 1047.0L1833.1 1056.7Z"/>
<path d="M1806.7 1055.1L1815.3 1055.1L1811.0 1064.8Z"/>
<path d="M1814.5 1059.5L1823.0 1059.5L1818.8 1069.2Z"/>
<path d="M1829.2 1071.6L1837.8 1071.6L1833.5 1081.3Z"/>
<path d="M1844.2 1082.0L1852.8 1082.0L1848.5 1091.7Z"/>
<path d="M1799.5 1083.8L1808.0 1083.8L1803.8 1093.5Z"/>
<path d="M1813.8 1095.7L1822.4 1095.7L1818.1 1105.4Z"/>
<path d="M1828.8 1094.5L1837.4 1094.5L1833.1 1104.2Z"/>
<path d="M1792.0 1107.6L1800.5 1107.6L1796.2 1117.3Z"/>
<path d="M1806.7 1109.5L1815.3 1109.5L1811.0 1119.2Z"/>
<path d="M1836.7 1108.8L1845.3 1108.8L1841.0 1118.5Z"/>
<path d="M1851.3 1107.0L1859.9 1107.0L1855.6 1116.7Z"/>
<path d="M1769.2 1118.2L1777.8 1118.2L1773.5 1127.9Z"/>
<path d="M1784.5 1122.0L1793.0 1122.0L1788.8 1131.7Z"/>
<path d="M1799.2 1126.3L1807.8 1126.3L1803.5 1136.0Z"/>
<path d="M1813.8 1130.1L1822.4 1130.1L1818.1 1139.8Z"/>
<path d="M1829.2 1127.6L1837.8 1127.6L1833.5 1137.3Z"/>
<path d="M1844.2 1123.8L1852.8 1123.8L1848.5 1133.5Z"/>
<path d="M1859.2 1119.1L1867.8 1119.1L1863.5 1128.8Z"/>
<path d="M1874.2 1117.0L1882.8 1117.0L1878.5 1126.7Z"/>
<path d="M1866.7 1131.6L1875.3 1131.6L1871.0 1141.3Z"/>
<path d="M1777.0 1140.7L1785.5 1140.7L1781.2 1150.4Z"/>
<path d="M1791.7 1142.6L1800.3 1142.6L1796.0 1152.3Z"/>
<path d="M1806.3 1144.5L1814.9 1144.5L1810.6 1154.2Z"/>
<path d="M1836.7 1142.6L1845.3 1142.6L1841.0 1152.3Z"/>
<path d="M1851.3 1140.7L1859.9 1140.7L1855.6 1150.4Z"/>
<path d="M1765.1 1147.0L1773.7 1147.0L1769.4 1156.7Z"/>
<path d="M1778.2 1156.3L1786.8 1156.3L1782.5 1166.0Z"/>
<path d="M1793.2 1158.8L1801.8 1158.8L1797.5 1168.5Z"/>
<path d="M1849.5 1158.8L1858.0 1158.8L1853.8 1168.5Z"/>
<path d="M1863.8 1158.8L1872.4 1158.8L1868.1 1168.5Z"/>
<path d="M1878.2 1155.1L1886.8 1155.1L1882.5 1164.8Z"/>
<path d="M1770.7 1163.8L1779.3 1163.8L1775.0 1173.5Z"/>
<path d="M1780.7 1167.6L1789.3 1167.6L1785.0 1177.3Z"/>
<path d="M1790.1 1170.1L1798.7 1170.1L1794.4 1179.8Z"/>
<path d="M1799.5 1173.2L1808.0 1173.2L1803.8 1182.9Z"/>
<path d="M1808.8 1173.8L1817.4 1173.8L1813.1 1183.5Z"/>
<path d="M1808.2 1160.1L1816.8 1160.1L1812.5 1169.8Z"/>
<path d="M1814.5 1162.0L1823.0 1162.0L1818.8 1171.7Z"/>
<path d="M1828.2 1162.6L1836.8 1162.6L1832.5 1172.3Z"/>
<path d="M1834.5 1160.1L1843.0 1160.1L1838.8 1169.8Z"/>
<path d="M1834.5 1173.2L1843.0 1173.2L1838.8 1182.9Z"/>
<path d="M1843.8 1172.6L1852.4 1172.6L1848.1 1182.3Z"/>
<path d="M1853.2 1171.3L1861.8 1171.3L1857.5 1181.0Z"/>
<path d="M1862.6 1168.2L1871.2 1168.2L1866.9 1177.9Z"/>
<path d="M1872.0 1165.1L1880.5 1165.1L1876.2 1174.8Z"/>
<path d="M1766.3 1178.8L1774.9 1178.8L1770.6 1188.5Z"/>
<path d="M1775.7 1180.1L1784.3 1180.1L1780.0 1189.8Z"/>
<path d="M1785.1 1183.2L1793.7 1183.2L1789.4 1192.9Z"/>
<path d="M1794.5 1187.0L1803.0 1187.0L1798.8 1196.7Z"/>
<path d="M1803.2 1188.8L1811.8 1188.8L1807.5 1198.5Z"/>
<path d="M1812.6 1192.6L1821.2 1192.6L1816.9 1202.3Z"/>
<path d="M1830.7 1192.0L1839.3 1192.0L1835.0 1201.7Z"/>
<path d="M1840.1 1189.5L1848.7 1189.5L1844.4 1199.2Z"/>
<path d="M1848.8 1187.6L1857.4 1187.6L1853.1 1197.3Z"/>
<path d="M1858.2 1185.1L1866.8 1185.1L1862.5 1194.8Z"/>
<path d="M1867.6 1181.3L1876.2 1181.3L1871.9 1191.0Z"/>
<path d="M1877.0 1178.2L1885.5 1178.2L1881.2 1187.9Z"/>
<path d="M1764.5 1195.7L1773.0 1195.7L1768.8 1205.4Z"/>
<path d="M1772.0 1200.1L1780.5 1200.1L1776.2 1209.8Z"/>
<path d="M1779.5 1201.3L1788.0 1201.3L1783.8 1211.0Z"/>
<path d="M1787.0 1202.6L1795.5 1202.6L1791.2 1212.3Z"/>
<path d="M1794.5 1203.2L1803.0 1203.2L1798.8 1212.9Z"/>
<path d="M1802.0 1203.8L1810.5 1203.8L1806.2 1213.5Z"/>
<path d="M1809.5 1204.5L1818.0 1204.5L1813.8 1214.2Z"/>
<path d="M1814.5 1207.0L1823.0 1207.0L1818.8 1216.7Z"/>
<path d="M1879.5 1198.2L1888.0 1198.2L1883.8 1207.9Z"/>
<path d="M1872.0 1199.5L1880.5 1199.5L1876.2 1209.2Z"/>
<path d="M1864.5 1199.5L1873.0 1199.5L1868.8 1209.2Z"/>
<path d="M1857.0 1200.1L1865.5 1200.1L1861.2 1209.8Z"/>
<path d="M1849.5 1200.7L1858.0 1200.7L1853.8 1210.4Z"/>
<path d="M1842.0 1201.3L1850.5 1201.3L1846.2 1211.0Z"/>
<path d="M1834.5 1203.8L1843.0 1203.8L1838.8 1213.5Z"/>
<path d="M1830.7 1207.6L1839.3 1207.6L1835.0 1217.3Z"/>
<path d="M1765.1 1212.6L1773.7 1212.6L1769.4 1222.3Z"/>
<path d="M1779.5 1215.1L1788.0 1215.1L1783.8 1224.8Z"/>
<path d="M1863.8 1215.7L1872.4 1215.7L1868.1 1225.4Z"/>
<path d="M1878.2 1212.6L1886.8 1212.6L1882.5 1222.3Z"/>
<path d="M1807.0 1224.5L1815.5 1224.5L1811.2 1234.2Z"/>
<path d="M1821.3 1227.0L1829.9 1227.0L1825.6 1236.7Z"/>
<path d="M1835.5 1225.1L1844.0 1225.1L1839.8 1234.8Z"/>
</g>
<g stroke="#000" fill="none">
<path stroke-width="5.5" d="M1203.0 1200.0H1329.6"/>
<path stroke-width="7.4" d="M1266.3 1165.2V1233.5"/>
<path stroke-width="7.1" d="M1234.3 1165.2H1298.3M1234.3 1233.5H1298.3"/>
<path stroke-width="5.5" d="M1389.7 1189.8H1515.3"/>
<path stroke-width="7.4" d="M1452.5 1142.1V1237.8"/>
<path stroke-width="7.1" d="M1420.7 1142.1H1484.3M1420.7 1237.8H1484.3"/>
<path stroke-width="5.5" d="M1576.5 1141.5H1702.1"/>
<path stroke-width="7.4" d="M1639.3 1049.8V1234.4"/>
<path stroke-width="7.1" d="M1607.3 1049.8H1671.3M1607.3 1234.4H1671.3"/>
<path stroke-width="5.5" d="M1762.8 1156.6H1888.8"/>
<path stroke-width="7.4" d="M1825.8 1091.2V1222.5"/>
<path stroke-width="7.1" d="M1793.6 1091.2H1858.0M1793.6 1222.5H1858.0"/>
</g>
<g stroke="#000" stroke-width="5.3" fill="none">
<path d="M1172.8 751.4V1254.7"/>
<path d="M1159.0 1252.0H1921.8"/>
<path d="M1159.0 1127.5H1172.8"/>
<path d="M1159.0 1003.0H1172.8"/>
<path d="M1159.0 878.5H1172.8"/>
<path d="M1159.0 754.0H1172.8"/>
<path d="M1266.8 1252.0V1267.0"/>
<path d="M1453.3 1252.0V1267.0"/>
<path d="M1639.7 1252.0V1267.0"/>
<path d="M1826.2 1252.0V1267.0"/>
</g>
<g class="tk" text-anchor="end">
<text transform="translate(1154.0 1263.3) scale(0.965 1)">0</text>
<text transform="translate(1154.0 1138.8) scale(0.965 1)">3</text>
<text transform="translate(1154.0 1014.3) scale(0.965 1)">6</text>
<text transform="translate(1154.0 889.8) scale(0.965 1)">9</text>
<text transform="translate(1154.0 765.3) scale(0.965 1)">12</text>
</g>
<g class="tk" text-anchor="middle">
<text transform="translate(1265.9 1304.2) scale(0.965 1)">F0/1</text>
<text transform="translate(1452.4 1304.2) scale(0.965 1)">F2</text>
<text transform="translate(1638.8 1304.2) scale(0.965 1)">F3</text>
<text transform="translate(1825.3 1304.2) scale(0.965 1)">F4</text>
</g>
<text class="yt" text-anchor="middle" transform="translate(1089 1001.9) rotate(-90) scale(0.93 1)">FIB-4</text>
<text class="an" x="1240.5" y="773.6">FIB-4</text>
<text class="an" x="1242" y="823.8"><tspan font-style="italic">r</tspan>=0.288</text>
</g>
</g>
</svg>
</body>
</html>
